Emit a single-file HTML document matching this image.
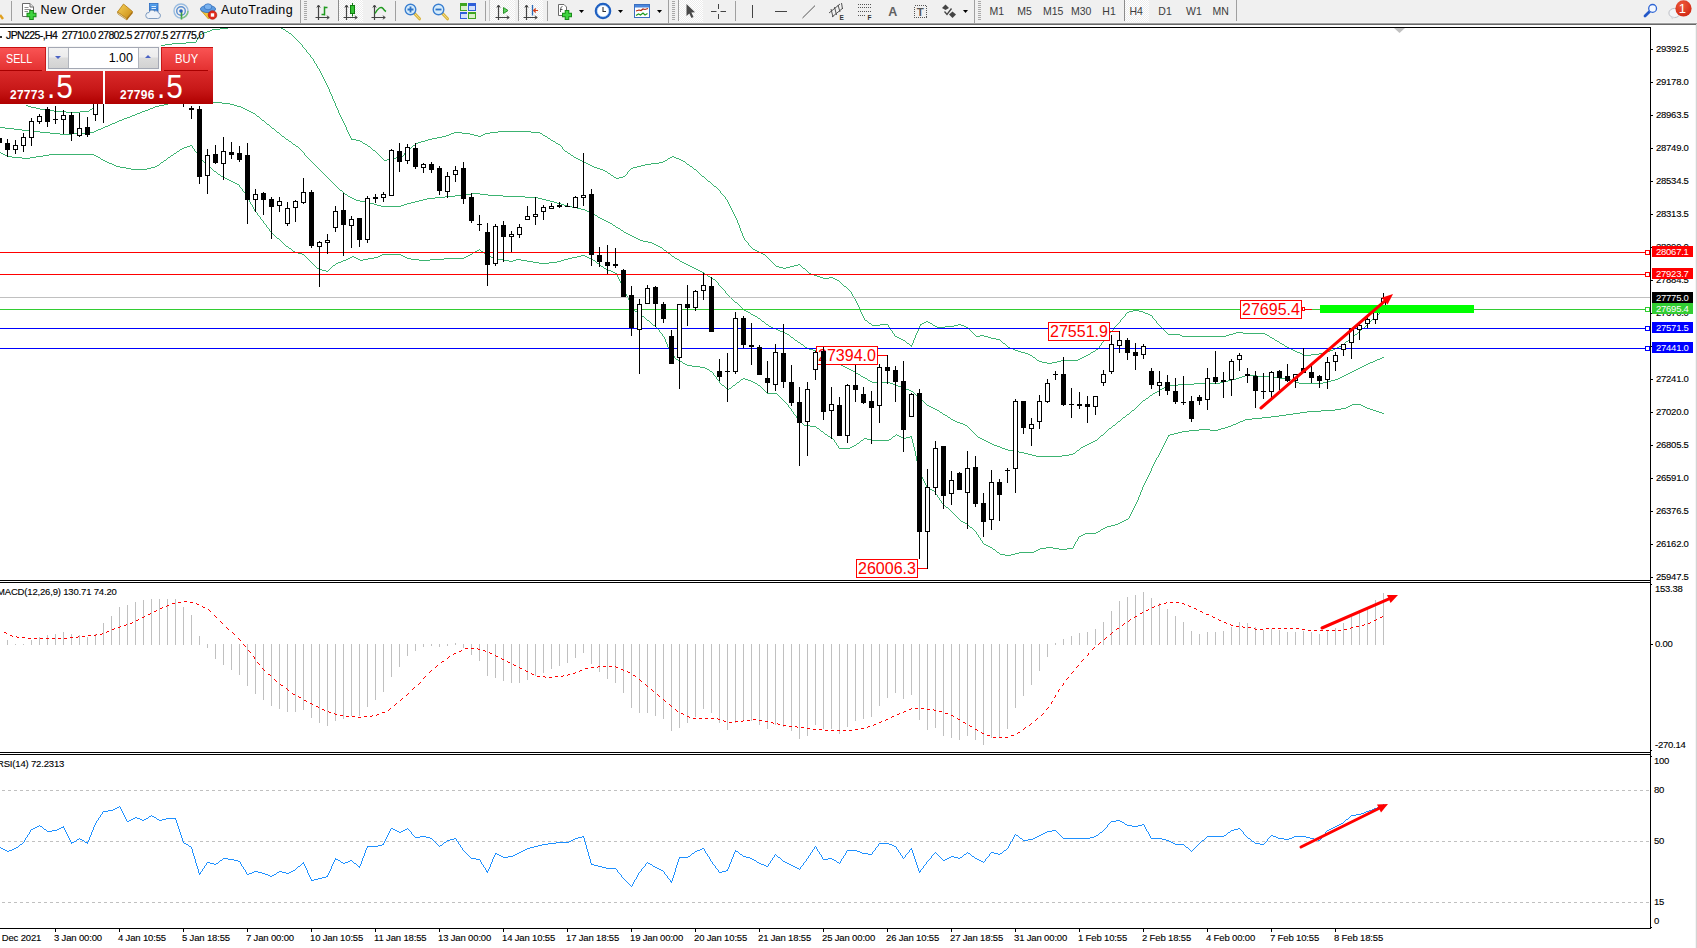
<!DOCTYPE html>
<html><head><meta charset="utf-8"><title>JPN225 H4</title>
<style>
html,body{margin:0;padding:0}
body{width:1697px;height:948px;overflow:hidden;background:#fff;position:relative;font-family:"Liberation Sans",sans-serif;}
#tb{position:absolute;left:0;top:0;width:1697px;height:23px;background:#f0f0f0;box-sizing:border-box;border-bottom:1px solid #f5f5f5}
#tbl1{position:absolute;left:0;top:23px;width:1697px;height:1px;background:#a0a0a0}
#tbl2{position:absolute;left:0;top:24px;width:1697px;height:1px;background:#696969}
svg#ch{position:absolute;left:0;top:0}
.ax,.tm,.lbl{-webkit-text-stroke:0.12px #000}
.ax{position:absolute;font-size:9.5px;line-height:12px;height:12px;color:#000;letter-spacing:-0.25px;white-space:nowrap}
.tag{position:absolute;left:1652px;width:41px;height:11px;line-height:11px;font-size:9.5px;color:#fff;letter-spacing:-0.25px;text-indent:4px;white-space:nowrap;margin-top:0}
.tm{position:absolute;top:932px;font-size:9.5px;line-height:12px;color:#000;letter-spacing:-0.15px;white-space:nowrap}
.lbl{position:absolute;font-size:9.5px;line-height:12px;color:#000;letter-spacing:-0.17px;white-space:nowrap}
/*TOOLBARCSS*/
#sym{-webkit-text-stroke:0.2px #000;position:absolute;left:6px;top:29px;font-size:10.5px;line-height:13px;color:#000;white-space:nowrap;letter-spacing:-0.6px}
#symdot{position:absolute;left:0;top:36px;width:2px;height:2px;background:#333}
#oc{position:absolute;left:0;top:46px;width:213px;height:58px}
#volbg{position:absolute;left:46px;top:0;width:115px;height:26px;background:#f6f6f6}
#sellb,#buyb{position:absolute;top:1px;height:24px;background:linear-gradient(#f95353,#e33030);color:#fff;font-size:12.5px;line-height:24px;box-sizing:border-box;border-top:1px solid #c81010}
#sellb{left:0;width:46px;border-right:1px solid #c81818}
#buyb{left:161px;width:52px;border-left:1px solid #c81818}
#sellb span{position:absolute;left:6px;top:-1px;transform:scaleX(0.86);transform-origin:0 0}
#buyb span{position:absolute;left:13px;top:-1px;transform:scaleX(0.9);transform-origin:0 0}
#sellb i{position:absolute;left:0;bottom:0;width:42px;height:1px;background:#a80000;box-shadow:0 1px 0 #ea5555}
#buyb i{position:absolute;right:5px;bottom:0;width:44px;height:1px;background:#a80000;box-shadow:0 1px 0 #ea5555}
#vol{position:absolute;left:48px;top:1px;width:111px;height:22px;box-sizing:border-box;border:1px solid #a3a7b3;background:#fff}
#vol .vb{position:absolute;top:0;width:19px;height:20px;background:linear-gradient(#f2f2f2 0%,#ececec 45%,#dcdcdc 50%,#d2d2d2 100%);border-right:1px solid #b0b4bc;border-left:1px solid #b0b4bc}
#vol .vb b{position:absolute;left:6px;top:8px;width:0;height:0;border-left:3px solid transparent;border-right:3px solid transparent}
#vol .dn{border-top:3px solid #4a62c4}
#vol .up{border-bottom:3px solid #4a62c4;top:7px!important}
#volt{position:absolute;right:25px;top:0;font-size:12.5px;line-height:20px;color:#000}
#sellp,#buyp{position:absolute;top:25px;height:33px;background:linear-gradient(#d92a2a,#c81818 55%,#b00000);color:#fff}
#sellp{left:0;width:103px}
#buyp{left:105px;width:108px}
#oc .sm{position:absolute;top:17px;font-size:12px;line-height:14px;font-weight:bold;letter-spacing:0.25px}
#oc .bg{position:absolute;top:-3px;font-size:33px;line-height:38px;letter-spacing:1px;transform:scaleX(0.9);transform-origin:0 0}

#gap{position:absolute;left:103px;top:25px;width:2px;height:33px;background:#fff}

</style></head><body>
<div id="tb"><svg width="1697" height="23" viewBox="0 0 1697 23" style="position:absolute;left:0;top:0">
<defs>
<pattern id="chk" width="2" height="2" patternUnits="userSpaceOnUse"><rect width="2" height="2" fill="#fff"/><rect width="1" height="1" fill="#ececec"/><rect x="1" y="1" width="1" height="1" fill="#ececec"/></pattern>
<linearGradient id="gy" x1="0" y1="0" x2="1" y2="1"><stop offset="0" stop-color="#f7d25a"/><stop offset="1" stop-color="#c88a12"/></linearGradient>
<linearGradient id="gb" x1="0" y1="0" x2="0" y2="1"><stop offset="0" stop-color="#5aa6ee"/><stop offset="1" stop-color="#1c5fc4"/></linearGradient>
<radialGradient id="gr" cx="0.4" cy="0.3" r="0.8"><stop offset="0" stop-color="#ee5a3a"/><stop offset="1" stop-color="#cf2411"/></radialGradient>
<g id="dd"><polygon points="0,0 5,0 2.5,3" fill="#000"/></g>
<g id="grip" shape-rendering="crispEdges"><rect x="0" y="1" width="3" height="1" fill="#a8a8a8"/><rect x="0" y="3" width="3" height="1" fill="#a8a8a8"/><rect x="0" y="5" width="3" height="1" fill="#a8a8a8"/><rect x="0" y="7" width="3" height="1" fill="#a8a8a8"/><rect x="0" y="9" width="3" height="1" fill="#a8a8a8"/><rect x="0" y="11" width="3" height="1" fill="#a8a8a8"/><rect x="0" y="13" width="3" height="1" fill="#a8a8a8"/><rect x="0" y="15" width="3" height="1" fill="#a8a8a8"/><rect x="0" y="17" width="3" height="1" fill="#a8a8a8"/><rect x="0" y="19" width="3" height="1" fill="#a8a8a8"/></g>
<g id="axes" fill="none" stroke="#444" stroke-width="1.2"><path d="M3.5,2.5V17M0.5,14.5H14"/><path d="M1.8,4.5L3.5,2L5.2,4.5M11.8,12.8L14.3,14.5L11.8,16.2" stroke-width="1"/></g>
<g id="mag"><path d="M10.5,10.5L15.5,15.8" stroke="#d8b23a" stroke-width="3" stroke-linecap="round"/><path d="M10.5,10.5L15.5,15.8" stroke="#f4e08a" stroke-width="1" stroke-linecap="round"/><circle cx="6.5" cy="6.5" r="5.3" fill="#d6ecfb" stroke="#3b7fd0" stroke-width="1.4"/></g>
</defs>
<!-- pressed backgrounds -->
<g shape-rendering="crispEdges">
<rect x="339" y="0" width="24" height="22" fill="url(#chk)"/>
<rect x="490" y="0" width="25" height="22" fill="url(#chk)"/>
<rect x="519" y="0" width="24" height="22" fill="url(#chk)"/>
<rect x="679" y="0" width="24" height="22" fill="url(#chk)"/>
<rect x="1125" y="0" width="24" height="22" fill="url(#chk)"/>
<!-- separators -->
<rect x="11" y="1" width="1" height="20" fill="#a0a0a0"/>
<rect x="300" y="0" width="1" height="23" fill="#a0a0a0"/>
<rect x="338" y="0" width="1" height="21" fill="#8c8c8c"/>
<rect x="395" y="1" width="1" height="20" fill="#a0a0a0"/>
<rect x="485" y="1" width="1" height="20" fill="#a0a0a0"/>
<rect x="489" y="0" width="1" height="21" fill="#c8c8c8"/>
<rect x="518" y="0" width="1" height="21" fill="#a0a0a0"/>
<rect x="547" y="1" width="1" height="20" fill="#a0a0a0"/>
<rect x="668" y="0" width="1" height="23" fill="#a0a0a0"/>
<rect x="678" y="0" width="1" height="21" fill="#a0a0a0"/>
<rect x="735" y="1" width="1" height="20" fill="#a0a0a0"/>
<rect x="974" y="0" width="1" height="23" fill="#a0a0a0"/>
<rect x="1124" y="0" width="1" height="21" fill="#8c8c8c"/>
<rect x="1236" y="0" width="1" height="21" fill="#a0a0a0"/>
</g>
<use href="#grip" x="304" y="0"/><use href="#grip" x="672" y="0"/><use href="#grip" x="978" y="0"/>
<!-- left cut icon -->
<path d="M0,15L3,19" stroke="#e0a020" stroke-width="2.5"/>
<!-- New Order icon -->
<g transform="translate(21,3)"><path d="M1.5,0.5H9L12.5,4V13.5H1.5Z" fill="#fff" stroke="#6a6a6a"/><path d="M9,0.5V4H12.5" fill="#e4e4e4" stroke="#6a6a6a"/><path d="M3.5,4.5H7.5M3.5,6.5H10M3.5,8.5H7" stroke="#909090"/><path d="M10.5,7V17M5.5,12H15.5" stroke="#1a8a1a" stroke-width="4.6"/><path d="M10.5,8V16M6.5,12H14.5" stroke="#3fd43f" stroke-width="2.6"/></g>
<text x="40.5" y="14" font-size="12.5" fill="#000" font-family="Liberation Sans, sans-serif" letter-spacing="0.55">New Order</text>
<!-- book -->
<g transform="translate(117,3)"><path d="M6.5,1L15.5,8.5L9.5,15.5L0.5,9Z" fill="url(#gy)" stroke="#b07a10" stroke-width="0.8"/><path d="M0.5,9L9.5,15.5L10,17L1,11Z" fill="#f4ecd0" stroke="#b07a10" stroke-width="0.7"/><path d="M9.5,15.5L15.5,8.5L15.8,10L10,17Z" fill="#a86c08"/></g>
<!-- cloud server -->
<g transform="translate(145,3)"><rect x="4.5" y="0.5" width="8.5" height="11" fill="url(#gb)" stroke="#2a6ac0" stroke-width="0.8"/><path d="M6.5,3.5H11M6.5,5.5H11" stroke="#d8ecff" stroke-width="1"/><path d="M3.5,15.5a3,3 0 0 1 0.5,-6a3.2,3.2 0 0 1 5.5,-1.3a2.6,2.6 0 0 1 3.8,1.6a2.9,2.9 0 0 1 -0.6,5.7Z" fill="#eef2f8" stroke="#7f9cc0" stroke-width="1"/></g>
<!-- signal -->
<g transform="translate(173,3)" fill="none"><circle cx="8" cy="8" r="7" stroke="#9abce0" stroke-width="1.4"/><circle cx="8" cy="8" r="4.3" stroke="#5b8fd0" stroke-width="1.4"/><path d="M8.5,8.5V16.5" stroke="#3aa03a" stroke-width="1.6"/><path d="M15,8A7,7 0 0 1 8.5,15" stroke="#7fc47f" stroke-width="1.4"/><circle cx="8" cy="8" r="1.8" fill="#2b62b8"/></g>
<!-- autotrading -->
<g transform="translate(200,3)"><path d="M1,7.5L8.5,16L15,9.5Z" fill="#f2c43a" stroke="#c89414" stroke-width="0.8"/><ellipse cx="8" cy="6" rx="7.6" ry="3.6" fill="#5c9be0" stroke="#2f6cba" stroke-width="0.8"/><ellipse cx="8" cy="3.8" rx="3.8" ry="3" fill="#7ab2ee" stroke="#2f6cba" stroke-width="0.7"/><circle cx="12.5" cy="12" r="4.3" fill="#e02a1a" stroke="#a81408" stroke-width="0.6"/><rect x="10.8" y="10.3" width="3.4" height="3.4" fill="#fff"/></g>
<text x="221" y="14" font-size="12.5" fill="#000" font-family="Liberation Sans, sans-serif" letter-spacing="0.4">AutoTrading</text>
<!-- chart type icons -->
<use href="#axes" x="315" y="3"/><path d="M324.5,6.5V15.5M324.5,7.5H327.5M321.5,14.5H324.5" stroke="#1f9a1f" stroke-width="1.5" fill="none"/>
<use href="#axes" x="343" y="3"/><path d="M352.5,3V16.5" stroke="#117a11" stroke-width="1"/><rect x="350.5" y="5.5" width="4" height="8" fill="#35c435" stroke="#117a11"/>
<use href="#axes" x="371" y="3"/><path d="M375,13.5C378,8 381,6 383,8.5C384,10 385,11 386,11.5" stroke="#1f9a1f" stroke-width="1.4" fill="none"/>
<!-- zoom in / out -->
<use href="#mag" x="404" y="3"/><path d="M407.5,9.5H413.5M410.5,6.5V12.5" stroke="#2f74c8" stroke-width="1.8"/>
<use href="#mag" x="432" y="3"/><path d="M435.5,9.5H441.5" stroke="#2f74c8" stroke-width="1.8"/>
<!-- tile -->
<g transform="translate(460,3)" shape-rendering="crispEdges"><rect x="0" y="0" width="8" height="8" fill="#3fa51f"/><rect x="8" y="0" width="8" height="8" fill="#2f5fd8"/><rect x="0" y="8" width="8" height="8" fill="#2f5fd8"/><rect x="8" y="8" width="8" height="8" fill="#3fa51f"/><rect x="1" y="3" width="6" height="4" fill="#d8f0c8"/><rect x="9" y="3" width="6" height="4" fill="#d4e0fa"/><rect x="1" y="11" width="6" height="4" fill="#d4e0fa"/><rect x="9" y="11" width="6" height="4" fill="#d8f0c8"/><rect x="7" y="0" width="1" height="16" fill="#f0f0f0"/><rect x="0" y="8" width="16" height="1" fill="#f0f0f0"/></g>
<!-- shift / autoscroll -->
<use href="#axes" x="495" y="3"/><polygon points="503.5,7.5 503.5,13.5 508,10.5" fill="#5fd45f" stroke="#1f8a1f" stroke-width="0.9"/>
<use href="#axes" x="523" y="3"/><path d="M532.5,5V15.5" stroke="#2a6ab8" stroke-width="1.3"/><path d="M538,10.5H534M535.8,8.5L533.6,10.5L535.8,12.5" stroke="#d4401a" stroke-width="1.1" fill="none"/>
<!-- indicators add -->
<g transform="translate(557,3)"><path d="M1.5,1.5H7L9.5,4V12.5H1.5Z" fill="#fff" stroke="#6a6a6a"/><path d="M3.5,9C3.5,4 4.5,3.5 5.5,3.5M3,6.5H5.5" stroke="#444" fill="none" stroke-width="0.9"/><path d="M10,7V17M5,12H15" stroke="#1a8a1a" stroke-width="4.6"/><path d="M10,8V16M6,12H14" stroke="#3fd43f" stroke-width="2.6"/></g>
<use href="#dd" x="579" y="10"/>
<!-- clock -->
<g transform="translate(595,3)"><circle cx="8" cy="8" r="7.2" fill="#fff" stroke="#1f5fc0" stroke-width="2.2"/><circle cx="8" cy="8" r="5.8" fill="none" stroke="#8ab8ee" stroke-width="0.6"/><path d="M8,4V8.5H11" stroke="#333" stroke-width="1.1" fill="none"/></g>
<use href="#dd" x="618" y="10"/>
<!-- template -->
<g transform="translate(634,4)"><rect x="0.5" y="0.5" width="15" height="13" fill="#fff" stroke="#3a6ec0"/><rect x="1" y="1" width="14" height="2.5" fill="#4a86dc"/><path d="M2,7L5,6L7,6.5L9,5L11,5.5L14,4.5" stroke="#b02a10" stroke-width="1.2" fill="none"/><path d="M2,11.5L4.5,10L6.5,11L9,9L11,11L13.5,9.5" stroke="#1f9a1f" stroke-width="1.2" fill="none"/></g>
<use href="#dd" x="657" y="10"/>
<!-- cursor -->
<path d="M686.5,4L686.5,16L689.3,13.4L691.5,18L693.5,17L691.4,12.6L695,12.2Z" fill="#4a4a4a"/>
<!-- crosshair -->
<path d="M718.5,4V9M718.5,14V19M711,11.5H716.5M720.5,11.5H726" stroke="#444" stroke-width="1"/>
<!-- line tools -->
<rect x="752" y="5" width="1" height="13" fill="#444" shape-rendering="crispEdges"/>
<rect x="775" y="11" width="12" height="1" fill="#444" shape-rendering="crispEdges"/>
<path d="M802.5,18L815,5.6" stroke="#555" stroke-width="1"/>
<g stroke="#444" stroke-width="0.9" fill="none"><path d="M829,13L840,4M832,17L843,8M831,9L833,17M834.5,7L836.5,15M838,5L840,12M841.5,3L842.5,9"/></g>
<text x="839.5" y="20" font-size="6.5" font-weight="bold" fill="#333" font-family="Liberation Sans, sans-serif">E</text>
<g stroke="#555" stroke-width="1" stroke-dasharray="1 1" shape-rendering="crispEdges"><path d="M858,4.5H872M858,7.5H872M858,11.5H872M858,15.5H866"/></g>
<text x="867.5" y="20" font-size="6.5" font-weight="bold" fill="#333" font-family="Liberation Sans, sans-serif">F</text>
<text x="888.3" y="16" font-size="12.5" font-weight="bold" fill="#606060" font-family="Liberation Sans, sans-serif">A</text>
<rect x="914.5" y="5.5" width="12" height="12" fill="none" stroke="#555" stroke-dasharray="1 1" shape-rendering="crispEdges"/>
<text x="916.7" y="16" font-size="11.5" font-weight="bold" fill="#555" font-family="Liberation Sans, sans-serif">T</text>
<g fill="#444"><polygon points="942,8 945.5,4.5 949,8 945.5,10"/><polygon points="949,14.5 952.5,11.5 956,14.5 952.5,18"/><path d="M944.5,11.5L947,14.5L951.5,8.5" fill="none" stroke="#444" stroke-width="1.3"/></g>
<use href="#dd" x="963" y="10"/>
<!-- timeframes -->
<g font-size="10.5" fill="#3c3c3c" font-family="Liberation Sans, sans-serif">
<text x="989.5" y="15">M1</text><text x="1017.3" y="15">M5</text><text x="1043" y="15">M15</text><text x="1071" y="15">M30</text><text x="1102.3" y="15">H1</text><text x="1129.5" y="15">H4</text><text x="1158.3" y="15">D1</text><text x="1186" y="15">W1</text><text x="1212.5" y="15">MN</text>
</g>
<!-- search -->
<path d="M1649.6,11.4L1645,16" stroke="#2458c8" stroke-width="2.8" stroke-linecap="round"/><circle cx="1652.6" cy="8.4" r="3.9" fill="#f4f8ff" stroke="#2f66d4" stroke-width="1.3"/>
<!-- chat -->
<ellipse cx="1674.5" cy="13" rx="5.6" ry="4.6" fill="#f4f5f8" stroke="#b8bac2" stroke-width="0.9"/><path d="M1671,16.5L1672,19.5L1675,17Z" fill="#d8dae0"/>
<circle cx="1683.5" cy="8.4" r="8.1" fill="url(#gr)"/>
<text x="1678.8" y="13.2" font-size="13" fill="#fff" font-family="Liberation Sans, sans-serif">1</text>
</svg>
</div><div id="tbl1"></div><div id="tbl2"></div>
<svg id="ch" width="1697" height="948" viewBox="0 0 1697 948">
<defs><clipPath id="cm"><rect x="0" y="28" width="1650" height="552"/></clipPath><clipPath id="c2"><rect x="0" y="583" width="1650" height="169"/></clipPath><clipPath id="c3"><rect x="0" y="755" width="1650" height="173"/></clipPath></defs>
<g clip-path="url(#cm)">
<path d="M239 24.5h33M235 25.5h4M272 25.5h3M232 26.5h3M275 26.5h3M228 27.5h4M278 27.5h3M220 28.5h8M281 28.5h2M212 29.5h8M283 29.5h2M210 30.5h2M285 30.5h1M207 31.5h3M286 31.5h2M204 32.5h3M288 32.5h1M202 33.5h2M289 33.5h2M200 34.5h2M291 34.5h1M199 35.5h1M292 35.5h1M199 36.5h1M293 36.5h1M198 37.5h1M294 37.5h1M197 38.5h1M295 38.5h1M197 39.5h1M296 39.5h1M196 40.5h1M297 40.5h1M196 41.5h1M298 41.5h1M186 42.5h10M299 42.5h1M172 43.5h14M300 43.5h1M165 44.5h7M301 44.5h1M161 45.5h4M302 45.5h1M159 46.5h2M302 46.5h1M158 47.5h1M303 47.5h1M157 48.5h1M304 48.5h1M155 49.5h2M305 49.5h1M154 50.5h1M306 50.5h1M152 51.5h2M306 51.5h1M151 52.5h1M307 52.5h1M150 53.5h1M308 53.5h1M148 54.5h2M309 54.5h1M147 55.5h1M310 55.5h1M145 56.5h2M310 56.5h1M144 57.5h1M311 57.5h1M143 58.5h1M312 58.5h1M141 59.5h2M313 59.5h1M140 60.5h1M313 60.5h1M139 61.5h1M314 61.5h1M138 62.5h1M314 62.5h1M137 63.5h1M315 63.5h1M136 64.5h1M316 64.5h1M135 65.5h1M316 65.5h1M134 66.5h1M317 66.5h1M133 67.5h1M317 67.5h1M132 68.5h1M318 68.5h1M131 69.5h1M319 69.5h1M130 70.5h1M319 70.5h1M129 71.5h1M320 71.5h1M128 72.5h1M320 72.5h1M127 73.5h1M321 73.5h1M126 74.5h1M321 74.5h1M125 75.5h1M322 75.5h1M124 76.5h1M322 76.5h1M123 77.5h1M323 77.5h1M122 78.5h1M323 78.5h1M121 79.5h1M324 79.5h1M120 80.5h1M324 80.5h1M119 81.5h1M325 81.5h1M118 82.5h1M325 82.5h1M117 83.5h1M326 83.5h1M116 84.5h1M326 84.5h1M115 85.5h1M327 85.5h1M114 86.5h1M327 86.5h1M113 87.5h1M328 87.5h1M112 88.5h1M328 88.5h1M111 89.5h1M329 89.5h1M110 90.5h1M329 90.5h1M109 91.5h1M329 91.5h1M108 92.5h1M330 92.5h1M107 93.5h1M330 93.5h1M106 94.5h1M331 94.5h1M105 95.5h1M331 95.5h1M104 96.5h1M332 96.5h1M103 97.5h1M332 97.5h1M102 98.5h1M332 98.5h1M101 99.5h1M333 99.5h1M100 100.5h1M333 100.5h1M99 101.5h1M334 101.5h1M98 102.5h1M334 102.5h1M97 103.5h1M335 103.5h1M96 104.5h1M335 104.5h1M26 105.5h2M95 105.5h1M335 105.5h1M28 106.5h3M94 106.5h1M336 106.5h1M31 107.5h5M93 107.5h1M336 107.5h1M36 108.5h4M92 108.5h1M337 108.5h1M40 109.5h5M90 109.5h2M337 109.5h1M45 110.5h9M89 110.5h1M338 110.5h1M54 111.5h12M80 111.5h9M338 111.5h1M66 112.5h14M338 112.5h1M339 113.5h1M339 114.5h1M340 115.5h1M340 116.5h1M341 117.5h1M341 118.5h1M342 119.5h1M342 120.5h1M343 121.5h1M343 122.5h1M344 123.5h1M344 124.5h1M345 125.5h1M345 126.5h1M346 127.5h1M346 128.5h1M346 129.5h1M347 130.5h1M347 131.5h1M498 131.5h33M348 132.5h1M454 132.5h8M490 132.5h8M531 132.5h9M348 133.5h1M451 133.5h3M462 133.5h8M485 133.5h5M540 133.5h2M349 134.5h1M449 134.5h2M470 134.5h4M483 134.5h2M542 134.5h1M349 135.5h1M446 135.5h3M474 135.5h4M481 135.5h2M543 135.5h2M350 136.5h1M442 136.5h4M478 136.5h3M545 136.5h2M350 137.5h1M437 137.5h5M547 137.5h1M351 138.5h1M432 138.5h5M548 138.5h2M351 139.5h5M428 139.5h4M550 139.5h1M356 140.5h4M425 140.5h3M551 140.5h2M360 141.5h2M421 141.5h4M553 141.5h2M362 142.5h1M418 142.5h3M555 142.5h1M363 143.5h2M416 143.5h2M556 143.5h2M365 144.5h2M415 144.5h1M558 144.5h2M367 145.5h1M413 145.5h2M560 145.5h1M368 146.5h2M412 146.5h1M561 146.5h1M370 147.5h1M411 147.5h1M562 147.5h1M371 148.5h1M409 148.5h2M562 148.5h1M372 149.5h1M408 149.5h1M563 149.5h1M373 150.5h2M407 150.5h1M564 150.5h1M375 151.5h1M406 151.5h1M565 151.5h2M376 152.5h1M405 152.5h1M567 152.5h1M377 153.5h1M404 153.5h1M568 153.5h2M378 154.5h1M404 154.5h1M570 154.5h1M379 155.5h1M403 155.5h1M571 155.5h2M380 156.5h1M400 156.5h3M573 156.5h1M672 156.5h2M381 157.5h1M396 157.5h4M574 157.5h2M670 157.5h2M674 157.5h2M382 158.5h1M392 158.5h4M576 158.5h2M668 158.5h2M676 158.5h3M383 159.5h1M387 159.5h5M578 159.5h2M667 159.5h1M679 159.5h2M384 160.5h3M580 160.5h2M665 160.5h2M681 160.5h2M582 161.5h2M663 161.5h2M683 161.5h2M584 162.5h2M659 162.5h4M685 162.5h1M586 163.5h2M651 163.5h8M686 163.5h1M588 164.5h2M645 164.5h6M687 164.5h2M590 165.5h2M641 165.5h4M689 165.5h1M592 166.5h2M637 166.5h4M690 166.5h2M594 167.5h3M633 167.5h4M692 167.5h1M597 168.5h3M631 168.5h2M693 168.5h1M600 169.5h3M630 169.5h1M694 169.5h2M603 170.5h2M629 170.5h1M696 170.5h1M605 171.5h2M628 171.5h1M697 171.5h1M607 172.5h1M627 172.5h1M698 172.5h1M608 173.5h2M627 173.5h1M699 173.5h1M610 174.5h1M626 174.5h1M700 174.5h1M611 175.5h2M625 175.5h1M701 175.5h1M613 176.5h1M623 176.5h2M702 176.5h2M614 177.5h2M619 177.5h4M704 177.5h1M616 178.5h3M705 178.5h1M706 179.5h1M707 180.5h1M708 181.5h2M710 182.5h1M711 183.5h1M712 184.5h1M713 185.5h1M714 186.5h2M716 187.5h1M717 188.5h1M718 189.5h1M719 190.5h1M720 191.5h1M720 192.5h1M721 193.5h1M722 194.5h1M723 195.5h1M724 196.5h1M725 197.5h1M725 198.5h1M726 199.5h1M727 200.5h1M727 201.5h1M728 202.5h1M728 203.5h1M729 204.5h1M729 205.5h1M730 206.5h1M730 207.5h1M731 208.5h1M731 209.5h1M732 210.5h1M732 211.5h1M733 212.5h1M733 213.5h1M734 214.5h1M734 215.5h1M735 216.5h1M735 217.5h1M736 218.5h1M736 219.5h1M737 220.5h1M737 221.5h1M737 222.5h1M738 223.5h1M738 224.5h1M739 225.5h1M739 226.5h1M739 227.5h1M740 228.5h1M740 229.5h1M740 230.5h1M741 231.5h1M741 232.5h1M742 233.5h1M742 234.5h1M742 235.5h1M743 236.5h1M743 237.5h1M744 238.5h1M744 239.5h1M745 240.5h1M746 241.5h1M747 242.5h1M748 243.5h1M748 244.5h1M749 245.5h1M750 246.5h1M751 247.5h1M752 248.5h1M753 249.5h2M755 250.5h2M757 251.5h2M759 252.5h2M761 253.5h2M763 254.5h2M765 255.5h1M766 256.5h1M767 257.5h1M768 258.5h1M769 259.5h1M770 260.5h1M771 261.5h1M772 262.5h1M773 263.5h1M774 264.5h1M798 264.5h2M775 265.5h1M794 265.5h4M800 265.5h1M776 266.5h3M790 266.5h4M801 266.5h1M779 267.5h4M786 267.5h4M802 267.5h1M783 268.5h3M803 268.5h2M805 269.5h1M806 270.5h1M807 271.5h1M808 272.5h1M809 273.5h2M811 274.5h3M814 275.5h3M817 276.5h3M820 277.5h3M829 277.5h4M823 278.5h6M833 278.5h2M835 279.5h2M837 280.5h2M839 281.5h1M840 282.5h1M841 283.5h1M842 284.5h1M843 285.5h1M844 286.5h2M846 287.5h1M847 288.5h1M848 289.5h1M849 290.5h1M850 291.5h1M851 292.5h1M851 293.5h1M852 294.5h1M852 295.5h1M853 296.5h1M854 297.5h1M854 298.5h1M855 299.5h1M855 300.5h1M856 301.5h1M856 302.5h1M857 303.5h1M857 304.5h1M858 305.5h1M858 306.5h1M859 307.5h1M859 308.5h1M860 309.5h1M860 310.5h1M1133 310.5h6M1383 310.5h1M860 311.5h1M1129 311.5h4M1139 311.5h4M1382 311.5h1M861 312.5h1M1127 312.5h2M1143 312.5h2M1380 312.5h2M861 313.5h1M1126 313.5h1M1145 313.5h3M1379 313.5h1M862 314.5h1M1125 314.5h1M1148 314.5h2M1378 314.5h1M862 315.5h1M1125 315.5h1M1150 315.5h2M1377 315.5h1M863 316.5h1M1124 316.5h1M1152 316.5h1M1375 316.5h2M863 317.5h1M1123 317.5h1M1152 317.5h1M1374 317.5h1M864 318.5h1M1122 318.5h1M1153 318.5h1M1373 318.5h1M864 319.5h1M1121 319.5h1M1154 319.5h1M1372 319.5h1M865 320.5h2M1120 320.5h1M1155 320.5h1M1371 320.5h1M867 321.5h1M926 321.5h2M1120 321.5h1M1156 321.5h1M1370 321.5h1M868 322.5h1M924 322.5h2M928 322.5h2M1119 322.5h1M1156 322.5h1M1369 322.5h1M869 323.5h2M922 323.5h2M930 323.5h2M1118 323.5h1M1157 323.5h1M1368 323.5h1M871 324.5h1M880 324.5h8M920 324.5h2M932 324.5h1M958 324.5h3M1117 324.5h1M1158 324.5h1M1367 324.5h1M872 325.5h8M888 325.5h1M920 325.5h1M933 325.5h2M954 325.5h4M961 325.5h3M1116 325.5h1M1159 325.5h1M1366 325.5h1M888 326.5h1M919 326.5h1M935 326.5h2M945 326.5h9M964 326.5h2M1115 326.5h1M1160 326.5h1M1365 326.5h1M889 327.5h1M919 327.5h1M937 327.5h8M966 327.5h2M1114 327.5h1M1161 327.5h1M1364 327.5h1M890 328.5h1M918 328.5h1M968 328.5h1M1114 328.5h1M1162 328.5h1M1362 328.5h2M890 329.5h1M918 329.5h1M969 329.5h1M1113 329.5h1M1163 329.5h1M1361 329.5h1M891 330.5h1M918 330.5h1M970 330.5h1M1112 330.5h1M1164 330.5h1M1360 330.5h1M892 331.5h1M917 331.5h1M971 331.5h1M1111 331.5h1M1165 331.5h1M1359 331.5h1M892 332.5h1M917 332.5h1M972 332.5h1M1110 332.5h1M1166 332.5h1M1236 332.5h7M1358 332.5h1M893 333.5h1M916 333.5h1M973 333.5h1M1109 333.5h1M1167 333.5h1M1233 333.5h3M1243 333.5h22M1357 333.5h1M894 334.5h1M916 334.5h1M974 334.5h1M1108 334.5h1M1168 334.5h12M1229 334.5h4M1265 334.5h2M1355 334.5h2M894 335.5h1M915 335.5h1M975 335.5h1M980 335.5h4M1107 335.5h1M1180 335.5h2M1226 335.5h3M1267 335.5h2M1354 335.5h1M895 336.5h2M915 336.5h1M976 336.5h4M984 336.5h4M1107 336.5h1M1182 336.5h44M1269 336.5h1M1353 336.5h1M897 337.5h2M915 337.5h1M988 337.5h3M1106 337.5h1M1270 337.5h2M1352 337.5h1M899 338.5h2M914 338.5h1M991 338.5h5M1105 338.5h1M1272 338.5h2M1350 338.5h2M901 339.5h2M914 339.5h1M996 339.5h4M1104 339.5h1M1274 339.5h1M1349 339.5h1M903 340.5h2M913 340.5h1M1000 340.5h1M1104 340.5h1M1275 340.5h2M1348 340.5h1M905 341.5h1M913 341.5h1M1001 341.5h1M1103 341.5h1M1277 341.5h2M1346 341.5h2M906 342.5h1M913 342.5h1M1002 342.5h1M1102 342.5h1M1279 342.5h1M1345 342.5h1M907 343.5h2M912 343.5h1M1003 343.5h2M1101 343.5h1M1280 343.5h2M1344 343.5h1M909 344.5h1M912 344.5h1M1005 344.5h1M1101 344.5h1M1282 344.5h2M1342 344.5h2M910 345.5h2M1006 345.5h1M1100 345.5h1M1284 345.5h1M1341 345.5h1M911 346.5h1M1007 346.5h1M1099 346.5h1M1285 346.5h2M1339 346.5h2M1008 347.5h2M1099 347.5h1M1287 347.5h2M1337 347.5h2M1010 348.5h3M1098 348.5h1M1289 348.5h2M1335 348.5h2M1013 349.5h2M1096 349.5h2M1291 349.5h2M1333 349.5h2M1015 350.5h3M1095 350.5h1M1293 350.5h2M1330 350.5h3M1018 351.5h3M1093 351.5h2M1295 351.5h2M1326 351.5h4M1021 352.5h4M1091 352.5h2M1297 352.5h3M1323 352.5h3M1025 353.5h3M1090 353.5h1M1300 353.5h2M1319 353.5h4M1028 354.5h2M1088 354.5h2M1302 354.5h2M1311 354.5h8M1030 355.5h2M1086 355.5h2M1304 355.5h7M1032 356.5h1M1084 356.5h2M1033 357.5h2M1082 357.5h2M1035 358.5h1M1080 358.5h2M1036 359.5h1M1078 359.5h2M1037 360.5h2M1061 360.5h17M1039 361.5h3M1057 361.5h4M1042 362.5h5M1052 362.5h5M1047 363.5h5" fill="none" stroke="#3cb371" stroke-width="1" shape-rendering="crispEdges"/>
<path d="M193 102.5h29M168 103.5h25M222 103.5h8M164 104.5h4M230 104.5h4M159 105.5h5M234 105.5h3M155 106.5h4M237 106.5h4M153 107.5h2M241 107.5h2M150 108.5h3M243 108.5h2M148 109.5h2M245 109.5h2M145 110.5h3M247 110.5h2M142 111.5h3M249 111.5h2M140 112.5h2M251 112.5h2M137 113.5h3M253 113.5h2M135 114.5h2M255 114.5h1M132 115.5h3M256 115.5h1M130 116.5h2M257 116.5h2M127 117.5h3M259 117.5h1M124 118.5h3M260 118.5h1M122 119.5h2M261 119.5h1M119 120.5h3M262 120.5h2M117 121.5h2M264 121.5h1M115 122.5h2M265 122.5h1M112 123.5h3M266 123.5h1M110 124.5h2M267 124.5h2M108 125.5h2M269 125.5h1M105 126.5h3M270 126.5h1M0 127.5h5M103 127.5h2M271 127.5h1M5 128.5h9M101 128.5h2M272 128.5h2M14 129.5h8M98 129.5h3M274 129.5h1M22 130.5h9M96 130.5h2M275 130.5h1M31 131.5h9M94 131.5h2M276 131.5h1M40 132.5h10M86 132.5h8M277 132.5h2M50 133.5h10M72 133.5h14M279 133.5h1M60 134.5h12M280 134.5h1M281 135.5h1M282 136.5h2M284 137.5h1M285 138.5h1M286 139.5h2M288 140.5h1M289 141.5h2M291 142.5h1M292 143.5h1M293 144.5h2M295 145.5h1M296 146.5h2M298 147.5h1M299 148.5h1M300 149.5h1M301 150.5h1M302 151.5h1M303 152.5h1M304 153.5h1M304 154.5h1M305 155.5h1M306 156.5h1M307 157.5h1M308 158.5h1M309 159.5h1M310 160.5h1M311 161.5h1M312 162.5h1M313 163.5h1M314 164.5h1M315 165.5h1M316 166.5h1M317 167.5h1M318 168.5h1M319 169.5h1M320 170.5h1M321 171.5h1M322 172.5h1M323 173.5h1M324 174.5h1M325 175.5h1M326 176.5h1M327 177.5h1M328 178.5h1M329 179.5h1M330 180.5h1M331 181.5h1M332 182.5h1M333 183.5h1M334 184.5h1M335 185.5h1M336 186.5h1M337 187.5h1M338 188.5h1M339 189.5h1M340 190.5h2M342 191.5h1M343 192.5h1M344 193.5h1M472 193.5h8M345 194.5h2M464 194.5h8M480 194.5h8M347 195.5h1M455 195.5h9M488 195.5h15M348 196.5h2M445 196.5h10M503 196.5h22M350 197.5h2M435 197.5h10M525 197.5h13M352 198.5h2M427 198.5h8M538 198.5h4M354 199.5h2M423 199.5h4M542 199.5h4M356 200.5h4M419 200.5h4M546 200.5h4M360 201.5h6M415 201.5h4M550 201.5h4M366 202.5h4M411 202.5h4M554 202.5h3M370 203.5h4M407 203.5h4M557 203.5h4M374 204.5h3M404 204.5h3M561 204.5h3M377 205.5h4M401 205.5h3M564 205.5h4M381 206.5h20M568 206.5h4M572 207.5h5M577 208.5h4M581 209.5h4M585 210.5h2M587 211.5h2M589 212.5h2M591 213.5h2M593 214.5h2M595 215.5h2M597 216.5h1M598 217.5h2M600 218.5h2M602 219.5h2M604 220.5h2M606 221.5h2M608 222.5h2M610 223.5h2M612 224.5h1M613 225.5h2M615 226.5h1M616 227.5h2M618 228.5h2M620 229.5h1M621 230.5h2M623 231.5h1M624 232.5h2M626 233.5h2M628 234.5h2M630 235.5h2M632 236.5h2M634 237.5h2M636 238.5h2M638 239.5h2M640 240.5h3M643 241.5h5M648 242.5h4M652 243.5h2M654 244.5h2M656 245.5h2M658 246.5h2M660 247.5h2M662 248.5h1M663 249.5h1M664 250.5h2M666 251.5h1M667 252.5h1M668 253.5h2M670 254.5h1M671 255.5h1M672 256.5h2M674 257.5h1M675 258.5h2M677 259.5h2M679 260.5h1M680 261.5h2M682 262.5h2M684 263.5h2M686 264.5h2M688 265.5h2M690 266.5h2M692 267.5h2M694 268.5h2M696 269.5h2M698 270.5h2M700 271.5h2M702 272.5h2M704 273.5h1M705 274.5h2M707 275.5h1M708 276.5h2M710 277.5h2M712 278.5h1M713 279.5h2M715 280.5h1M716 281.5h1M717 282.5h1M718 283.5h1M718 284.5h1M719 285.5h1M720 286.5h1M721 287.5h1M722 288.5h1M723 289.5h1M724 290.5h1M725 291.5h1M725 292.5h1M726 293.5h1M727 294.5h1M728 295.5h1M729 296.5h1M730 297.5h1M731 298.5h1M732 299.5h1M733 300.5h1M734 301.5h1M735 302.5h2M737 303.5h1M738 304.5h1M739 305.5h1M740 306.5h1M741 307.5h1M742 308.5h1M743 309.5h1M744 310.5h2M746 311.5h2M748 312.5h2M750 313.5h1M751 314.5h2M753 315.5h2M755 316.5h2M757 317.5h1M758 318.5h2M760 319.5h1M761 320.5h1M762 321.5h2M764 322.5h1M765 323.5h1M766 324.5h2M768 325.5h1M769 326.5h2M771 327.5h2M773 328.5h3M776 329.5h2M778 330.5h2M780 331.5h3M783 332.5h2M785 333.5h2M787 334.5h2M789 335.5h1M790 336.5h1M791 337.5h2M793 338.5h1M794 339.5h1M795 340.5h2M797 341.5h1M798 342.5h2M800 343.5h1M801 344.5h2M803 345.5h1M804 346.5h1M805 347.5h2M807 348.5h2M809 349.5h4M813 350.5h3M816 351.5h2M818 352.5h2M820 353.5h2M822 354.5h2M824 355.5h2M826 356.5h2M828 357.5h2M1382 357.5h2M830 358.5h1M1380 358.5h2M831 359.5h2M1377 359.5h3M833 360.5h1M1375 360.5h2M834 361.5h2M1373 361.5h2M836 362.5h2M1370 362.5h3M838 363.5h1M1368 363.5h2M839 364.5h2M1366 364.5h2M841 365.5h2M1364 365.5h2M843 366.5h2M1362 366.5h2M845 367.5h2M1360 367.5h2M847 368.5h2M1358 368.5h2M849 369.5h2M1356 369.5h2M851 370.5h2M1354 370.5h2M853 371.5h2M1352 371.5h2M855 372.5h1M1350 372.5h2M856 373.5h2M1348 373.5h2M858 374.5h2M1346 374.5h2M860 375.5h1M1245 375.5h12M1344 375.5h2M861 376.5h2M1242 376.5h3M1257 376.5h14M1342 376.5h2M863 377.5h2M1239 377.5h3M1271 377.5h8M1340 377.5h2M865 378.5h2M1236 378.5h3M1279 378.5h7M1338 378.5h2M867 379.5h1M1232 379.5h4M1286 379.5h5M1335 379.5h3M868 380.5h2M1228 380.5h4M1291 380.5h3M1331 380.5h4M870 381.5h2M1224 381.5h4M1294 381.5h2M1327 381.5h4M872 382.5h18M1220 382.5h4M1296 382.5h3M1323 382.5h4M890 383.5h3M1194 383.5h26M1299 383.5h24M893 384.5h2M1178 384.5h16M895 385.5h3M1170 385.5h8M898 386.5h3M1166 386.5h4M901 387.5h2M1164 387.5h2M903 388.5h3M1162 388.5h2M906 389.5h3M1160 389.5h2M909 390.5h2M1159 390.5h1M911 391.5h2M1157 391.5h2M913 392.5h1M1155 392.5h2M914 393.5h1M1153 393.5h2M915 394.5h1M1152 394.5h1M916 395.5h1M1150 395.5h2M917 396.5h1M1149 396.5h1M918 397.5h2M1148 397.5h1M920 398.5h1M1146 398.5h2M921 399.5h1M1145 399.5h1M922 400.5h1M1143 400.5h2M923 401.5h1M1142 401.5h1M924 402.5h1M1141 402.5h1M925 403.5h1M1140 403.5h1M926 404.5h1M1139 404.5h1M927 405.5h2M1138 405.5h1M929 406.5h2M1137 406.5h1M931 407.5h2M1136 407.5h1M933 408.5h2M1135 408.5h1M935 409.5h2M1134 409.5h1M937 410.5h2M1132 410.5h2M939 411.5h1M1131 411.5h1M940 412.5h2M1130 412.5h1M942 413.5h1M1129 413.5h1M943 414.5h2M1127 414.5h2M945 415.5h2M1126 415.5h1M947 416.5h1M1125 416.5h1M948 417.5h2M1123 417.5h2M950 418.5h1M1122 418.5h1M951 419.5h2M1121 419.5h1M953 420.5h2M1120 420.5h1M955 421.5h2M1118 421.5h2M957 422.5h3M1117 422.5h1M960 423.5h3M1116 423.5h1M963 424.5h2M1115 424.5h1M965 425.5h2M1113 425.5h2M967 426.5h1M1112 426.5h1M968 427.5h1M1111 427.5h1M969 428.5h1M1109 428.5h2M970 429.5h1M1108 429.5h1M971 430.5h1M1107 430.5h1M972 431.5h1M1106 431.5h1M973 432.5h1M1105 432.5h1M974 433.5h1M1104 433.5h1M975 434.5h1M1103 434.5h1M976 435.5h1M1101 435.5h2M977 436.5h1M1100 436.5h1M978 437.5h2M1099 437.5h1M980 438.5h2M1098 438.5h1M982 439.5h2M1097 439.5h1M984 440.5h2M1095 440.5h2M986 441.5h2M1093 441.5h2M988 442.5h2M1091 442.5h2M990 443.5h2M1089 443.5h2M992 444.5h2M1087 444.5h2M994 445.5h3M1085 445.5h2M997 446.5h3M1083 446.5h2M1000 447.5h2M1081 447.5h2M1002 448.5h3M1080 448.5h1M1005 449.5h3M1079 449.5h1M1008 450.5h5M1077 450.5h2M1013 451.5h6M1076 451.5h1M1019 452.5h5M1075 452.5h1M1024 453.5h4M1073 453.5h2M1028 454.5h4M1069 454.5h4M1032 455.5h4M1062 455.5h7M1036 456.5h26" fill="none" stroke="#3cb371" stroke-width="1" shape-rendering="crispEdges"/>
<path d="M190 145.5h2M187 146.5h3M192 146.5h1M184 147.5h3M192 147.5h1M182 148.5h2M193 148.5h1M180 149.5h2M194 149.5h1M179 150.5h1M194 150.5h1M177 151.5h2M195 151.5h1M0 152.5h1M176 152.5h1M196 152.5h1M1 153.5h2M174 153.5h2M197 153.5h1M3 154.5h2M49 154.5h45M173 154.5h1M197 154.5h1M5 155.5h2M43 155.5h6M94 155.5h2M171 155.5h2M198 155.5h1M7 156.5h5M36 156.5h7M96 156.5h2M170 156.5h1M199 156.5h1M12 157.5h10M30 157.5h6M98 157.5h2M168 157.5h2M200 157.5h1M22 158.5h8M100 158.5h1M167 158.5h1M201 158.5h1M101 159.5h2M166 159.5h1M201 159.5h1M103 160.5h2M164 160.5h2M202 160.5h1M105 161.5h2M163 161.5h1M203 161.5h1M107 162.5h2M161 162.5h2M204 162.5h1M109 163.5h3M160 163.5h1M205 163.5h1M112 164.5h2M159 164.5h1M206 164.5h1M114 165.5h2M157 165.5h2M207 165.5h2M116 166.5h4M155 166.5h2M209 166.5h1M120 167.5h6M151 167.5h4M210 167.5h1M126 168.5h5M147 168.5h4M211 168.5h1M131 169.5h16M212 169.5h1M213 170.5h1M214 171.5h2M216 172.5h1M217 173.5h1M218 174.5h2M220 175.5h1M221 176.5h2M223 177.5h2M225 178.5h2M227 179.5h2M229 180.5h2M231 181.5h2M233 182.5h2M235 183.5h2M237 184.5h2M239 185.5h1M239 186.5h1M240 187.5h1M241 188.5h1M242 189.5h1M242 190.5h1M243 191.5h1M244 192.5h1M245 193.5h1M245 194.5h1M246 195.5h1M246 196.5h1M247 197.5h1M247 198.5h1M248 199.5h1M249 200.5h1M249 201.5h1M250 202.5h1M250 203.5h1M251 204.5h1M252 205.5h1M252 206.5h1M253 207.5h1M253 208.5h1M254 209.5h1M254 210.5h1M255 211.5h1M256 212.5h1M257 213.5h1M257 214.5h1M258 215.5h1M259 216.5h1M260 217.5h1M260 218.5h1M261 219.5h1M262 220.5h1M263 221.5h1M263 222.5h1M264 223.5h1M265 224.5h1M266 225.5h1M266 226.5h1M267 227.5h1M268 228.5h1M269 229.5h1M269 230.5h1M270 231.5h1M271 232.5h1M272 233.5h1M273 234.5h1M274 235.5h1M275 236.5h1M276 237.5h1M277 238.5h2M279 239.5h1M280 240.5h1M281 241.5h1M282 242.5h1M283 243.5h1M284 244.5h1M285 245.5h1M286 246.5h2M288 247.5h1M289 248.5h2M291 249.5h1M479 249.5h1M292 250.5h1M477 250.5h2M480 250.5h1M293 251.5h2M475 251.5h2M481 251.5h2M295 252.5h3M473 252.5h2M483 252.5h1M298 253.5h4M472 253.5h1M484 253.5h1M302 254.5h2M382 254.5h19M470 254.5h2M485 254.5h2M304 255.5h1M380 255.5h2M401 255.5h2M468 255.5h2M487 255.5h2M581 255.5h4M305 256.5h1M352 256.5h2M378 256.5h2M403 256.5h2M466 256.5h2M489 256.5h2M577 256.5h4M585 256.5h2M306 257.5h1M350 257.5h2M354 257.5h2M374 257.5h4M405 257.5h2M464 257.5h2M491 257.5h2M572 257.5h5M587 257.5h2M307 258.5h1M348 258.5h2M356 258.5h2M368 258.5h6M407 258.5h4M444 258.5h20M493 258.5h4M568 258.5h4M589 258.5h2M308 259.5h1M346 259.5h2M358 259.5h2M363 259.5h5M411 259.5h8M430 259.5h14M497 259.5h6M516 259.5h5M564 259.5h4M591 259.5h2M309 260.5h1M343 260.5h3M360 260.5h3M419 260.5h11M503 260.5h6M513 260.5h3M521 260.5h6M561 260.5h3M593 260.5h2M310 261.5h1M341 261.5h2M509 261.5h4M527 261.5h6M557 261.5h4M595 261.5h1M311 262.5h1M338 262.5h3M533 262.5h6M549 262.5h8M596 262.5h1M312 263.5h1M336 263.5h2M539 263.5h10M597 263.5h2M313 264.5h1M335 264.5h1M599 264.5h1M314 265.5h1M333 265.5h2M600 265.5h1M315 266.5h1M332 266.5h1M601 266.5h2M316 267.5h1M331 267.5h1M603 267.5h1M317 268.5h2M330 268.5h1M604 268.5h2M319 269.5h3M329 269.5h1M606 269.5h2M322 270.5h4M328 270.5h1M608 270.5h3M326 271.5h2M611 271.5h2M613 272.5h2M615 273.5h2M616 274.5h1M617 275.5h1M617 276.5h1M618 277.5h1M618 278.5h1M619 279.5h1M619 280.5h1M620 281.5h1M620 282.5h1M621 283.5h1M621 284.5h1M621 285.5h1M622 286.5h1M622 287.5h1M623 288.5h1M623 289.5h1M624 290.5h1M624 291.5h1M625 292.5h1M625 293.5h1M626 294.5h1M626 295.5h1M627 296.5h1M627 297.5h1M628 298.5h1M628 299.5h1M629 300.5h1M629 301.5h1M630 302.5h1M630 303.5h1M631 304.5h1M631 305.5h1M632 306.5h1M632 307.5h1M633 308.5h1M633 309.5h1M634 310.5h1M635 311.5h2M637 312.5h1M638 313.5h2M640 314.5h1M641 315.5h1M642 316.5h2M644 317.5h1M645 318.5h1M646 319.5h1M647 320.5h2M649 321.5h1M650 322.5h1M651 323.5h1M652 324.5h1M653 325.5h2M655 326.5h1M656 327.5h1M657 328.5h1M658 329.5h1M659 330.5h1M659 331.5h1M660 332.5h1M661 333.5h1M662 334.5h1M662 335.5h1M663 336.5h1M664 337.5h1M664 338.5h1M665 339.5h1M665 340.5h1M665 341.5h1M666 342.5h1M666 343.5h1M667 344.5h1M667 345.5h1M667 346.5h1M668 347.5h1M668 348.5h1M669 349.5h1M669 350.5h1M670 351.5h1M671 352.5h1M671 353.5h1M672 354.5h1M673 355.5h1M674 356.5h1M674 357.5h1M675 358.5h1M676 359.5h2M678 360.5h2M680 361.5h2M682 362.5h1M683 363.5h2M685 364.5h2M687 365.5h5M692 366.5h8M700 367.5h5M705 368.5h2M707 369.5h2M709 370.5h1M710 371.5h2M712 372.5h1M713 373.5h1M713 374.5h1M714 375.5h1M715 376.5h1M716 377.5h1M716 378.5h1M743 378.5h2M717 379.5h1M741 379.5h2M745 379.5h3M718 380.5h1M740 380.5h1M748 380.5h3M719 381.5h1M739 381.5h1M751 381.5h2M719 382.5h1M737 382.5h2M753 382.5h2M720 383.5h1M736 383.5h1M755 383.5h2M721 384.5h1M735 384.5h1M757 384.5h1M722 385.5h2M733 385.5h2M758 385.5h2M724 386.5h1M732 386.5h1M760 386.5h1M725 387.5h1M731 387.5h1M761 387.5h1M726 388.5h2M729 388.5h2M762 388.5h1M728 389.5h1M763 389.5h1M764 390.5h1M765 391.5h1M766 392.5h1M767 393.5h10M777 394.5h1M778 395.5h1M779 396.5h1M780 397.5h1M781 398.5h1M782 399.5h1M783 400.5h1M784 401.5h1M785 402.5h1M786 403.5h1M787 404.5h1M1352 404.5h9M788 405.5h1M1350 405.5h2M1361 405.5h2M788 406.5h1M1348 406.5h2M1363 406.5h2M789 407.5h1M1346 407.5h2M1365 407.5h2M790 408.5h1M1341 408.5h5M1367 408.5h3M791 409.5h1M1335 409.5h6M1370 409.5h3M791 410.5h1M1321 410.5h14M1373 410.5h3M792 411.5h1M1307 411.5h14M1376 411.5h3M793 412.5h1M1300 412.5h7M1379 412.5h3M793 413.5h1M1293 413.5h7M1382 413.5h2M794 414.5h1M1286 414.5h7M795 415.5h1M1279 415.5h7M796 416.5h1M1271 416.5h8M796 417.5h1M1262 417.5h9M797 418.5h1M1252 418.5h10M798 419.5h1M1245 419.5h7M799 420.5h1M1243 420.5h2M800 421.5h1M1240 421.5h3M801 422.5h1M1238 422.5h2M802 423.5h1M1236 423.5h2M803 424.5h1M1233 424.5h3M804 425.5h6M1231 425.5h2M810 426.5h6M1228 426.5h3M816 427.5h1M1225 427.5h3M817 428.5h2M1221 428.5h4M819 429.5h1M1199 429.5h11M1218 429.5h3M820 430.5h1M1189 430.5h10M1210 430.5h8M821 431.5h2M1182 431.5h7M823 432.5h1M1178 432.5h4M824 433.5h1M1174 433.5h4M825 434.5h2M896 434.5h1M1170 434.5h4M827 435.5h1M895 435.5h1M897 435.5h2M1168 435.5h2M828 436.5h2M893 436.5h2M899 436.5h2M910 436.5h2M1168 436.5h1M830 437.5h1M892 437.5h1M901 437.5h2M906 437.5h4M911 437.5h1M1167 437.5h1M831 438.5h2M864 438.5h3M891 438.5h1M903 438.5h3M911 438.5h1M1167 438.5h1M833 439.5h1M863 439.5h1M867 439.5h4M889 439.5h2M912 439.5h1M1166 439.5h1M834 440.5h1M861 440.5h2M871 440.5h18M912 440.5h1M1166 440.5h1M834 441.5h1M860 441.5h1M912 441.5h1M1165 441.5h1M835 442.5h1M859 442.5h1M912 442.5h1M1165 442.5h1M836 443.5h1M857 443.5h2M913 443.5h1M1164 443.5h1M836 444.5h1M856 444.5h1M913 444.5h1M1164 444.5h1M837 445.5h1M854 445.5h2M913 445.5h1M1163 445.5h1M838 446.5h1M852 446.5h2M913 446.5h1M1163 446.5h1M838 447.5h1M850 447.5h2M914 447.5h1M1162 447.5h1M839 448.5h11M914 448.5h1M1162 448.5h1M914 449.5h1M1161 449.5h1M914 450.5h1M1161 450.5h1M915 451.5h1M1160 451.5h1M915 452.5h1M1160 452.5h1M915 453.5h1M1159 453.5h1M915 454.5h1M1159 454.5h1M915 455.5h1M1158 455.5h1M916 456.5h1M1158 456.5h1M916 457.5h1M1157 457.5h1M916 458.5h1M1156 458.5h1M916 459.5h1M1156 459.5h1M916 460.5h1M1155 460.5h1M917 461.5h1M1155 461.5h1M917 462.5h1M1154 462.5h1M917 463.5h1M1154 463.5h1M917 464.5h1M1153 464.5h1M918 465.5h1M1153 465.5h1M918 466.5h1M1152 466.5h1M918 467.5h1M1152 467.5h1M919 468.5h1M1151 468.5h1M919 469.5h1M1151 469.5h1M919 470.5h1M1151 470.5h1M920 471.5h1M1150 471.5h1M920 472.5h1M1150 472.5h1M920 473.5h1M1149 473.5h1M921 474.5h1M1149 474.5h1M921 475.5h1M1148 475.5h1M921 476.5h1M1148 476.5h1M922 477.5h1M1147 477.5h1M922 478.5h1M1147 478.5h1M923 479.5h1M1146 479.5h1M923 480.5h1M1146 480.5h1M924 481.5h1M1145 481.5h1M924 482.5h1M1145 482.5h1M925 483.5h1M1144 483.5h1M925 484.5h1M1144 484.5h1M926 485.5h1M1143 485.5h1M926 486.5h1M1143 486.5h1M927 487.5h1M1142 487.5h1M928 488.5h2M1142 488.5h1M930 489.5h2M1142 489.5h1M932 490.5h2M1141 490.5h1M934 491.5h1M1141 491.5h1M935 492.5h1M1140 492.5h1M935 493.5h1M1140 493.5h1M936 494.5h1M1140 494.5h1M937 495.5h1M1139 495.5h1M937 496.5h1M1139 496.5h1M938 497.5h1M1138 497.5h1M939 498.5h1M1138 498.5h1M939 499.5h1M1138 499.5h1M940 500.5h1M1137 500.5h1M941 501.5h1M1137 501.5h1M941 502.5h1M1136 502.5h1M942 503.5h1M1136 503.5h1M943 504.5h1M1135 504.5h1M944 505.5h1M1135 505.5h1M945 506.5h1M1134 506.5h1M946 507.5h2M1134 507.5h1M948 508.5h1M1133 508.5h1M949 509.5h1M1133 509.5h1M950 510.5h1M1132 510.5h1M951 511.5h1M1132 511.5h1M952 512.5h1M1131 512.5h1M953 513.5h1M1131 513.5h1M954 514.5h1M1130 514.5h1M955 515.5h1M1130 515.5h1M956 516.5h1M1129 516.5h1M957 517.5h1M1129 517.5h1M958 518.5h1M1128 518.5h1M959 519.5h1M1126 519.5h2M960 520.5h1M1124 520.5h2M961 521.5h2M1122 521.5h2M963 522.5h2M1120 522.5h2M965 523.5h2M1118 523.5h2M967 524.5h1M1115 524.5h3M968 525.5h1M1111 525.5h4M969 526.5h1M1107 526.5h4M970 527.5h2M1105 527.5h2M972 528.5h1M1103 528.5h2M973 529.5h1M1101 529.5h2M974 530.5h1M1100 530.5h1M975 531.5h1M1098 531.5h2M976 532.5h1M1096 532.5h2M976 533.5h1M1085 533.5h11M977 534.5h1M1083 534.5h2M978 535.5h1M1081 535.5h2M978 536.5h1M1079 536.5h2M979 537.5h1M1078 537.5h1M980 538.5h1M1078 538.5h1M980 539.5h1M1077 539.5h1M981 540.5h1M1077 540.5h1M982 541.5h1M1076 541.5h1M982 542.5h1M1075 542.5h1M983 543.5h1M1075 543.5h1M984 544.5h2M1074 544.5h1M986 545.5h2M1074 545.5h1M988 546.5h2M1073 546.5h1M990 547.5h2M1046 547.5h7M1073 547.5h1M992 548.5h1M1040 548.5h6M1053 548.5h6M1067 548.5h6M993 549.5h2M1038 549.5h2M1059 549.5h8M995 550.5h1M1036 550.5h2M996 551.5h1M1034 551.5h2M997 552.5h2M1019 552.5h15M999 553.5h1M1015 553.5h4M1000 554.5h5M1011 554.5h4M1005 555.5h6" fill="none" stroke="#3cb371" stroke-width="1" shape-rendering="crispEdges"/>
<rect x="0" y="252" width="1650" height="1" fill="#ff0000"/>
<rect x="0" y="274" width="1650" height="1" fill="#ff0000"/>
<rect x="0" y="297" width="1650" height="1" fill="#c0c0c0"/>
<rect x="0" y="309" width="1650" height="1" fill="#32cd32"/>
<rect x="0" y="328" width="1650" height="1" fill="#0000ff"/>
<rect x="0" y="348" width="1650" height="1" fill="#0000ff"/>
<g shape-rendering="crispEdges">
<rect x="878" y="355" width="10" height="1" fill="#ff0000"/>
<rect x="1110" y="331" width="10" height="1" fill="#ff0000"/>
<rect x="918" y="568" width="10" height="1" fill="#ff0000"/>
<rect x="1302" y="309" width="10" height="1" fill="#ff0000"/>
<rect x="1312" y="309" width="8" height="1" fill="#32cd32"/>
<rect x="1302" y="307" width="3" height="4" fill="#ff0000"/>
<rect x="1303" y="308" width="1" height="2" fill="#fff"/>
</g>
<rect x="816.5" y="346.5" width="61" height="18" fill="#fff" stroke="#ff0000" stroke-width="1"/>
<text x="847.0" y="361.1" font-size="16" fill="#ff0000" text-anchor="middle" font-family="Liberation Sans, sans-serif" textLength="58" lengthAdjust="spacingAndGlyphs">27394.0</text>
<rect x="1048.5" y="322.5" width="61" height="18" fill="#fff" stroke="#ff0000" stroke-width="1"/>
<text x="1079.0" y="337.1" font-size="16" fill="#ff0000" text-anchor="middle" font-family="Liberation Sans, sans-serif" textLength="58" lengthAdjust="spacingAndGlyphs">27551.9</text>
<rect x="856.5" y="559.5" width="61" height="18" fill="#fff" stroke="#ff0000" stroke-width="1"/>
<text x="887.0" y="574.1" font-size="16" fill="#ff0000" text-anchor="middle" font-family="Liberation Sans, sans-serif" textLength="58" lengthAdjust="spacingAndGlyphs">26006.3</text>
<rect x="1240.5" y="300.5" width="61" height="18" fill="#fff" stroke="#ff0000" stroke-width="1"/>
<text x="1271.0" y="315.1" font-size="16" fill="#ff0000" text-anchor="middle" font-family="Liberation Sans, sans-serif" textLength="58" lengthAdjust="spacingAndGlyphs">27695.4</text>
<rect x="-1" y="138" width="1" height="5" fill="#000"/>
<rect x="-3" y="138" width="5" height="5" fill="#000"/>
<rect x="7" y="139" width="1" height="18" fill="#000"/>
<rect x="5" y="143" width="5" height="7" fill="#000"/>
<rect x="15" y="140" width="1" height="14" fill="#000"/>
<rect x="13" y="145" width="5" height="5" fill="#000"/>
<rect x="14" y="146" width="3" height="3" fill="#fff"/>
<rect x="23" y="133" width="1" height="19" fill="#000"/>
<rect x="21" y="137" width="5" height="9" fill="#000"/>
<rect x="22" y="138" width="3" height="7" fill="#fff"/>
<rect x="31" y="118" width="1" height="28" fill="#000"/>
<rect x="29" y="121" width="5" height="17" fill="#000"/>
<rect x="30" y="122" width="3" height="15" fill="#fff"/>
<rect x="39" y="114" width="1" height="10" fill="#000"/>
<rect x="37" y="116" width="5" height="6" fill="#000"/>
<rect x="38" y="117" width="3" height="4" fill="#fff"/>
<rect x="47" y="107" width="1" height="20" fill="#000"/>
<rect x="45" y="109" width="5" height="13" fill="#000"/>
<rect x="55" y="106" width="1" height="18" fill="#000"/>
<rect x="53" y="119" width="5" height="1" fill="#000"/>
<rect x="63" y="110" width="1" height="24" fill="#000"/>
<rect x="61" y="115" width="5" height="5" fill="#000"/>
<rect x="62" y="116" width="3" height="3" fill="#fff"/>
<rect x="71" y="112" width="1" height="29" fill="#000"/>
<rect x="69" y="115" width="5" height="19" fill="#000"/>
<rect x="79" y="113" width="1" height="24" fill="#000"/>
<rect x="77" y="128" width="5" height="8" fill="#000"/>
<rect x="78" y="129" width="3" height="6" fill="#fff"/>
<rect x="87" y="117" width="1" height="20" fill="#000"/>
<rect x="85" y="127" width="5" height="8" fill="#000"/>
<rect x="95" y="95" width="1" height="26" fill="#000"/>
<rect x="93" y="98" width="5" height="17" fill="#000"/>
<rect x="94" y="99" width="3" height="15" fill="#fff"/>
<rect x="103" y="95" width="1" height="28" fill="#000"/>
<rect x="101" y="96" width="5" height="7" fill="#000"/>
<rect x="102" y="97" width="3" height="5" fill="#fff"/>
<rect x="183" y="100" width="1" height="7" fill="#000"/>
<rect x="181" y="101" width="5" height="1" fill="#000"/>
<rect x="191" y="106" width="1" height="13" fill="#000"/>
<rect x="189" y="108" width="5" height="2" fill="#000"/>
<rect x="199" y="106" width="1" height="78" fill="#000"/>
<rect x="197" y="109" width="5" height="68" fill="#000"/>
<rect x="207" y="149" width="1" height="45" fill="#000"/>
<rect x="205" y="155" width="5" height="21" fill="#000"/>
<rect x="206" y="156" width="3" height="19" fill="#fff"/>
<rect x="215" y="145" width="1" height="19" fill="#000"/>
<rect x="213" y="154" width="5" height="9" fill="#000"/>
<rect x="223" y="137" width="1" height="43" fill="#000"/>
<rect x="221" y="151" width="5" height="13" fill="#000"/>
<rect x="222" y="152" width="3" height="11" fill="#fff"/>
<rect x="231" y="142" width="1" height="17" fill="#000"/>
<rect x="229" y="152" width="5" height="3" fill="#000"/>
<rect x="239" y="146" width="1" height="16" fill="#000"/>
<rect x="237" y="153" width="5" height="7" fill="#000"/>
<rect x="247" y="143" width="1" height="81" fill="#000"/>
<rect x="245" y="155" width="5" height="45" fill="#000"/>
<rect x="255" y="189" width="1" height="23" fill="#000"/>
<rect x="253" y="194" width="5" height="6" fill="#000"/>
<rect x="254" y="195" width="3" height="4" fill="#fff"/>
<rect x="263" y="192" width="1" height="23" fill="#000"/>
<rect x="261" y="193" width="5" height="7" fill="#000"/>
<rect x="271" y="197" width="1" height="42" fill="#000"/>
<rect x="269" y="199" width="5" height="8" fill="#000"/>
<rect x="279" y="197" width="1" height="15" fill="#000"/>
<rect x="277" y="201" width="5" height="5" fill="#000"/>
<rect x="278" y="202" width="3" height="3" fill="#fff"/>
<rect x="287" y="202" width="1" height="24" fill="#000"/>
<rect x="285" y="208" width="5" height="16" fill="#000"/>
<rect x="286" y="209" width="3" height="14" fill="#fff"/>
<rect x="295" y="200" width="1" height="22" fill="#000"/>
<rect x="293" y="201" width="5" height="7" fill="#000"/>
<rect x="294" y="202" width="3" height="5" fill="#fff"/>
<rect x="303" y="178" width="1" height="26" fill="#000"/>
<rect x="301" y="192" width="5" height="11" fill="#000"/>
<rect x="302" y="193" width="3" height="9" fill="#fff"/>
<rect x="311" y="190" width="1" height="58" fill="#000"/>
<rect x="309" y="192" width="5" height="54" fill="#000"/>
<rect x="319" y="241" width="1" height="46" fill="#000"/>
<rect x="317" y="242" width="5" height="5" fill="#000"/>
<rect x="318" y="243" width="3" height="3" fill="#fff"/>
<rect x="327" y="234" width="1" height="20" fill="#000"/>
<rect x="325" y="240" width="5" height="3" fill="#000"/>
<rect x="326" y="241" width="3" height="1" fill="#fff"/>
<rect x="335" y="206" width="1" height="26" fill="#000"/>
<rect x="333" y="211" width="5" height="17" fill="#000"/>
<rect x="334" y="212" width="3" height="15" fill="#fff"/>
<rect x="343" y="193" width="1" height="63" fill="#000"/>
<rect x="341" y="210" width="5" height="15" fill="#000"/>
<rect x="351" y="216" width="1" height="32" fill="#000"/>
<rect x="349" y="219" width="5" height="7" fill="#000"/>
<rect x="350" y="220" width="3" height="5" fill="#fff"/>
<rect x="359" y="218" width="1" height="29" fill="#000"/>
<rect x="357" y="218" width="5" height="22" fill="#000"/>
<rect x="367" y="196" width="1" height="47" fill="#000"/>
<rect x="365" y="198" width="5" height="42" fill="#000"/>
<rect x="366" y="199" width="3" height="40" fill="#fff"/>
<rect x="375" y="194" width="1" height="9" fill="#000"/>
<rect x="373" y="197" width="5" height="2" fill="#000"/>
<rect x="383" y="192" width="1" height="10" fill="#000"/>
<rect x="381" y="194" width="5" height="4" fill="#000"/>
<rect x="382" y="195" width="3" height="2" fill="#fff"/>
<rect x="391" y="149" width="1" height="47" fill="#000"/>
<rect x="389" y="150" width="5" height="46" fill="#000"/>
<rect x="390" y="151" width="3" height="44" fill="#fff"/>
<rect x="399" y="143" width="1" height="29" fill="#000"/>
<rect x="397" y="151" width="5" height="11" fill="#000"/>
<rect x="407" y="144" width="1" height="20" fill="#000"/>
<rect x="405" y="147" width="5" height="14" fill="#000"/>
<rect x="406" y="148" width="3" height="12" fill="#fff"/>
<rect x="415" y="143" width="1" height="26" fill="#000"/>
<rect x="413" y="148" width="5" height="19" fill="#000"/>
<rect x="423" y="163" width="1" height="10" fill="#000"/>
<rect x="421" y="164" width="5" height="4" fill="#000"/>
<rect x="422" y="165" width="3" height="2" fill="#fff"/>
<rect x="431" y="162" width="1" height="11" fill="#000"/>
<rect x="429" y="164" width="5" height="6" fill="#000"/>
<rect x="439" y="166" width="1" height="29" fill="#000"/>
<rect x="437" y="168" width="5" height="23" fill="#000"/>
<rect x="447" y="172" width="1" height="26" fill="#000"/>
<rect x="445" y="176" width="5" height="16" fill="#000"/>
<rect x="446" y="177" width="3" height="14" fill="#fff"/>
<rect x="455" y="166" width="1" height="16" fill="#000"/>
<rect x="453" y="170" width="5" height="5" fill="#000"/>
<rect x="454" y="171" width="3" height="3" fill="#fff"/>
<rect x="463" y="162" width="1" height="42" fill="#000"/>
<rect x="461" y="168" width="5" height="31" fill="#000"/>
<rect x="471" y="193" width="1" height="30" fill="#000"/>
<rect x="469" y="197" width="5" height="24" fill="#000"/>
<rect x="479" y="215" width="1" height="16" fill="#000"/>
<rect x="477" y="224" width="5" height="1" fill="#000"/>
<rect x="487" y="223" width="1" height="63" fill="#000"/>
<rect x="485" y="232" width="5" height="33" fill="#000"/>
<rect x="495" y="224" width="1" height="42" fill="#000"/>
<rect x="493" y="226" width="5" height="38" fill="#000"/>
<rect x="494" y="227" width="3" height="36" fill="#fff"/>
<rect x="503" y="221" width="1" height="41" fill="#000"/>
<rect x="501" y="225" width="5" height="12" fill="#000"/>
<rect x="511" y="231" width="1" height="21" fill="#000"/>
<rect x="509" y="234" width="5" height="3" fill="#000"/>
<rect x="510" y="235" width="3" height="1" fill="#fff"/>
<rect x="519" y="224" width="1" height="14" fill="#000"/>
<rect x="517" y="227" width="5" height="8" fill="#000"/>
<rect x="518" y="228" width="3" height="6" fill="#fff"/>
<rect x="527" y="206" width="1" height="14" fill="#000"/>
<rect x="525" y="216" width="5" height="4" fill="#000"/>
<rect x="526" y="217" width="3" height="2" fill="#fff"/>
<rect x="535" y="197" width="1" height="28" fill="#000"/>
<rect x="533" y="214" width="5" height="3" fill="#000"/>
<rect x="534" y="215" width="3" height="1" fill="#fff"/>
<rect x="543" y="205" width="1" height="15" fill="#000"/>
<rect x="541" y="207" width="5" height="5" fill="#000"/>
<rect x="542" y="208" width="3" height="3" fill="#fff"/>
<rect x="551" y="203" width="1" height="5" fill="#000"/>
<rect x="549" y="206" width="5" height="3" fill="#000"/>
<rect x="550" y="207" width="3" height="1" fill="#fff"/>
<rect x="559" y="202" width="1" height="6" fill="#000"/>
<rect x="557" y="205" width="5" height="2" fill="#000"/>
<rect x="567" y="203" width="1" height="4" fill="#000"/>
<rect x="565" y="206" width="5" height="1" fill="#000"/>
<rect x="575" y="196" width="1" height="12" fill="#000"/>
<rect x="573" y="197" width="5" height="11" fill="#000"/>
<rect x="574" y="198" width="3" height="9" fill="#fff"/>
<rect x="583" y="153" width="1" height="53" fill="#000"/>
<rect x="581" y="195" width="5" height="3" fill="#000"/>
<rect x="582" y="196" width="3" height="1" fill="#fff"/>
<rect x="591" y="189" width="1" height="77" fill="#000"/>
<rect x="589" y="194" width="5" height="61" fill="#000"/>
<rect x="599" y="247" width="1" height="20" fill="#000"/>
<rect x="597" y="255" width="5" height="7" fill="#000"/>
<rect x="607" y="245" width="1" height="29" fill="#000"/>
<rect x="605" y="262" width="5" height="4" fill="#000"/>
<rect x="615" y="248" width="1" height="20" fill="#000"/>
<rect x="613" y="264" width="5" height="2" fill="#000"/>
<rect x="623" y="269" width="1" height="28" fill="#000"/>
<rect x="621" y="270" width="5" height="27" fill="#000"/>
<rect x="631" y="286" width="1" height="50" fill="#000"/>
<rect x="629" y="295" width="5" height="33" fill="#000"/>
<rect x="639" y="299" width="1" height="75" fill="#000"/>
<rect x="637" y="304" width="5" height="26" fill="#000"/>
<rect x="638" y="305" width="3" height="24" fill="#fff"/>
<rect x="647" y="285" width="1" height="19" fill="#000"/>
<rect x="645" y="288" width="5" height="16" fill="#000"/>
<rect x="646" y="289" width="3" height="14" fill="#fff"/>
<rect x="655" y="286" width="1" height="41" fill="#000"/>
<rect x="653" y="287" width="5" height="17" fill="#000"/>
<rect x="663" y="302" width="1" height="21" fill="#000"/>
<rect x="661" y="304" width="5" height="15" fill="#000"/>
<rect x="671" y="330" width="1" height="34" fill="#000"/>
<rect x="669" y="336" width="5" height="28" fill="#000"/>
<rect x="679" y="304" width="1" height="85" fill="#000"/>
<rect x="677" y="304" width="5" height="54" fill="#000"/>
<rect x="678" y="305" width="3" height="52" fill="#fff"/>
<rect x="687" y="285" width="1" height="41" fill="#000"/>
<rect x="685" y="304" width="5" height="4" fill="#000"/>
<rect x="695" y="290" width="1" height="21" fill="#000"/>
<rect x="693" y="291" width="5" height="17" fill="#000"/>
<rect x="694" y="292" width="3" height="15" fill="#fff"/>
<rect x="703" y="273" width="1" height="27" fill="#000"/>
<rect x="701" y="285" width="5" height="6" fill="#000"/>
<rect x="702" y="286" width="3" height="4" fill="#fff"/>
<rect x="711" y="277" width="1" height="55" fill="#000"/>
<rect x="709" y="286" width="5" height="46" fill="#000"/>
<rect x="719" y="359" width="1" height="22" fill="#000"/>
<rect x="717" y="371" width="5" height="6" fill="#000"/>
<rect x="727" y="353" width="1" height="49" fill="#000"/>
<rect x="725" y="371" width="5" height="1" fill="#000"/>
<rect x="735" y="312" width="1" height="62" fill="#000"/>
<rect x="733" y="318" width="5" height="54" fill="#000"/>
<rect x="734" y="319" width="3" height="52" fill="#fff"/>
<rect x="743" y="316" width="1" height="32" fill="#000"/>
<rect x="741" y="318" width="5" height="27" fill="#000"/>
<rect x="751" y="323" width="1" height="42" fill="#000"/>
<rect x="749" y="345" width="5" height="2" fill="#000"/>
<rect x="759" y="345" width="1" height="30" fill="#000"/>
<rect x="757" y="347" width="5" height="28" fill="#000"/>
<rect x="767" y="361" width="1" height="32" fill="#000"/>
<rect x="765" y="378" width="5" height="5" fill="#000"/>
<rect x="775" y="344" width="1" height="47" fill="#000"/>
<rect x="773" y="352" width="5" height="33" fill="#000"/>
<rect x="774" y="353" width="3" height="31" fill="#fff"/>
<rect x="783" y="324" width="1" height="64" fill="#000"/>
<rect x="781" y="353" width="5" height="29" fill="#000"/>
<rect x="791" y="365" width="1" height="41" fill="#000"/>
<rect x="789" y="382" width="5" height="21" fill="#000"/>
<rect x="799" y="387" width="1" height="79" fill="#000"/>
<rect x="797" y="402" width="5" height="21" fill="#000"/>
<rect x="807" y="382" width="1" height="74" fill="#000"/>
<rect x="805" y="389" width="5" height="33" fill="#000"/>
<rect x="806" y="390" width="3" height="31" fill="#fff"/>
<rect x="815" y="351" width="1" height="29" fill="#000"/>
<rect x="813" y="352" width="5" height="18" fill="#000"/>
<rect x="814" y="353" width="3" height="16" fill="#fff"/>
<rect x="823" y="347" width="1" height="73" fill="#000"/>
<rect x="821" y="351" width="5" height="61" fill="#000"/>
<rect x="831" y="387" width="1" height="52" fill="#000"/>
<rect x="829" y="404" width="5" height="7" fill="#000"/>
<rect x="830" y="405" width="3" height="5" fill="#fff"/>
<rect x="839" y="397" width="1" height="39" fill="#000"/>
<rect x="837" y="405" width="5" height="31" fill="#000"/>
<rect x="847" y="384" width="1" height="59" fill="#000"/>
<rect x="845" y="385" width="5" height="51" fill="#000"/>
<rect x="846" y="386" width="3" height="49" fill="#fff"/>
<rect x="855" y="365" width="1" height="37" fill="#000"/>
<rect x="853" y="385" width="5" height="5" fill="#000"/>
<rect x="863" y="387" width="1" height="17" fill="#000"/>
<rect x="861" y="394" width="5" height="9" fill="#000"/>
<rect x="871" y="391" width="1" height="53" fill="#000"/>
<rect x="869" y="401" width="5" height="7" fill="#000"/>
<rect x="879" y="364" width="1" height="59" fill="#000"/>
<rect x="877" y="367" width="5" height="39" fill="#000"/>
<rect x="878" y="368" width="3" height="37" fill="#fff"/>
<rect x="887" y="355" width="1" height="29" fill="#000"/>
<rect x="885" y="367" width="5" height="4" fill="#000"/>
<rect x="895" y="366" width="1" height="36" fill="#000"/>
<rect x="893" y="370" width="5" height="12" fill="#000"/>
<rect x="903" y="361" width="1" height="91" fill="#000"/>
<rect x="901" y="381" width="5" height="49" fill="#000"/>
<rect x="911" y="393" width="1" height="24" fill="#000"/>
<rect x="909" y="394" width="5" height="23" fill="#000"/>
<rect x="910" y="395" width="3" height="21" fill="#fff"/>
<rect x="919" y="389" width="1" height="170" fill="#000"/>
<rect x="917" y="393" width="5" height="139" fill="#000"/>
<rect x="927" y="469" width="1" height="100" fill="#000"/>
<rect x="925" y="487" width="5" height="45" fill="#000"/>
<rect x="926" y="488" width="3" height="43" fill="#fff"/>
<rect x="935" y="441" width="1" height="54" fill="#000"/>
<rect x="933" y="448" width="5" height="40" fill="#000"/>
<rect x="934" y="449" width="3" height="38" fill="#fff"/>
<rect x="943" y="446" width="1" height="63" fill="#000"/>
<rect x="941" y="446" width="5" height="50" fill="#000"/>
<rect x="951" y="471" width="1" height="34" fill="#000"/>
<rect x="949" y="480" width="5" height="14" fill="#000"/>
<rect x="950" y="481" width="3" height="12" fill="#fff"/>
<rect x="959" y="472" width="1" height="18" fill="#000"/>
<rect x="957" y="473" width="5" height="17" fill="#000"/>
<rect x="967" y="451" width="1" height="78" fill="#000"/>
<rect x="965" y="468" width="5" height="25" fill="#000"/>
<rect x="966" y="469" width="3" height="23" fill="#fff"/>
<rect x="975" y="456" width="1" height="51" fill="#000"/>
<rect x="973" y="467" width="5" height="37" fill="#000"/>
<rect x="983" y="493" width="1" height="44" fill="#000"/>
<rect x="981" y="503" width="5" height="19" fill="#000"/>
<rect x="991" y="470" width="1" height="60" fill="#000"/>
<rect x="989" y="482" width="5" height="38" fill="#000"/>
<rect x="990" y="483" width="3" height="36" fill="#fff"/>
<rect x="999" y="479" width="1" height="42" fill="#000"/>
<rect x="997" y="482" width="5" height="13" fill="#000"/>
<rect x="1007" y="468" width="1" height="15" fill="#000"/>
<rect x="1005" y="470" width="5" height="1" fill="#000"/>
<rect x="1015" y="399" width="1" height="94" fill="#000"/>
<rect x="1013" y="401" width="5" height="68" fill="#000"/>
<rect x="1014" y="402" width="3" height="66" fill="#fff"/>
<rect x="1023" y="401" width="1" height="33" fill="#000"/>
<rect x="1021" y="401" width="5" height="27" fill="#000"/>
<rect x="1031" y="418" width="1" height="28" fill="#000"/>
<rect x="1029" y="424" width="5" height="5" fill="#000"/>
<rect x="1030" y="425" width="3" height="3" fill="#fff"/>
<rect x="1039" y="395" width="1" height="34" fill="#000"/>
<rect x="1037" y="401" width="5" height="21" fill="#000"/>
<rect x="1038" y="402" width="3" height="19" fill="#fff"/>
<rect x="1047" y="379" width="1" height="24" fill="#000"/>
<rect x="1045" y="383" width="5" height="19" fill="#000"/>
<rect x="1046" y="384" width="3" height="17" fill="#fff"/>
<rect x="1055" y="371" width="1" height="9" fill="#000"/>
<rect x="1053" y="374" width="5" height="1" fill="#000"/>
<rect x="1063" y="357" width="1" height="49" fill="#000"/>
<rect x="1061" y="374" width="5" height="31" fill="#000"/>
<rect x="1071" y="388" width="1" height="30" fill="#000"/>
<rect x="1069" y="404" width="5" height="1" fill="#000"/>
<rect x="1079" y="392" width="1" height="17" fill="#000"/>
<rect x="1077" y="404" width="5" height="2" fill="#000"/>
<rect x="1087" y="396" width="1" height="27" fill="#000"/>
<rect x="1085" y="404" width="5" height="3" fill="#000"/>
<rect x="1095" y="396" width="1" height="19" fill="#000"/>
<rect x="1093" y="396" width="5" height="11" fill="#000"/>
<rect x="1094" y="397" width="3" height="9" fill="#fff"/>
<rect x="1103" y="370" width="1" height="16" fill="#000"/>
<rect x="1101" y="374" width="5" height="9" fill="#000"/>
<rect x="1102" y="375" width="3" height="7" fill="#fff"/>
<rect x="1111" y="335" width="1" height="39" fill="#000"/>
<rect x="1109" y="344" width="5" height="28" fill="#000"/>
<rect x="1110" y="345" width="3" height="26" fill="#fff"/>
<rect x="1119" y="331" width="1" height="22" fill="#000"/>
<rect x="1117" y="340" width="5" height="6" fill="#000"/>
<rect x="1118" y="341" width="3" height="4" fill="#fff"/>
<rect x="1127" y="338" width="1" height="22" fill="#000"/>
<rect x="1125" y="340" width="5" height="13" fill="#000"/>
<rect x="1135" y="343" width="1" height="27" fill="#000"/>
<rect x="1133" y="352" width="5" height="4" fill="#000"/>
<rect x="1143" y="344" width="1" height="15" fill="#000"/>
<rect x="1141" y="346" width="5" height="9" fill="#000"/>
<rect x="1142" y="347" width="3" height="7" fill="#fff"/>
<rect x="1151" y="368" width="1" height="21" fill="#000"/>
<rect x="1149" y="371" width="5" height="14" fill="#000"/>
<rect x="1159" y="371" width="1" height="25" fill="#000"/>
<rect x="1157" y="382" width="5" height="4" fill="#000"/>
<rect x="1158" y="383" width="3" height="2" fill="#fff"/>
<rect x="1167" y="375" width="1" height="20" fill="#000"/>
<rect x="1165" y="382" width="5" height="9" fill="#000"/>
<rect x="1175" y="378" width="1" height="26" fill="#000"/>
<rect x="1173" y="391" width="5" height="11" fill="#000"/>
<rect x="1183" y="376" width="1" height="29" fill="#000"/>
<rect x="1181" y="402" width="5" height="1" fill="#000"/>
<rect x="1191" y="396" width="1" height="26" fill="#000"/>
<rect x="1189" y="401" width="5" height="18" fill="#000"/>
<rect x="1199" y="395" width="1" height="10" fill="#000"/>
<rect x="1197" y="397" width="5" height="4" fill="#000"/>
<rect x="1207" y="368" width="1" height="42" fill="#000"/>
<rect x="1205" y="378" width="5" height="22" fill="#000"/>
<rect x="1206" y="379" width="3" height="20" fill="#fff"/>
<rect x="1215" y="351" width="1" height="33" fill="#000"/>
<rect x="1213" y="377" width="5" height="5" fill="#000"/>
<rect x="1223" y="372" width="1" height="26" fill="#000"/>
<rect x="1221" y="380" width="5" height="2" fill="#000"/>
<rect x="1231" y="359" width="1" height="37" fill="#000"/>
<rect x="1229" y="361" width="5" height="19" fill="#000"/>
<rect x="1230" y="362" width="3" height="17" fill="#fff"/>
<rect x="1239" y="353" width="1" height="18" fill="#000"/>
<rect x="1237" y="355" width="5" height="5" fill="#000"/>
<rect x="1238" y="356" width="3" height="3" fill="#fff"/>
<rect x="1247" y="368" width="1" height="15" fill="#000"/>
<rect x="1245" y="374" width="5" height="2" fill="#000"/>
<rect x="1255" y="371" width="1" height="37" fill="#000"/>
<rect x="1253" y="376" width="5" height="15" fill="#000"/>
<rect x="1263" y="373" width="1" height="26" fill="#000"/>
<rect x="1261" y="391" width="5" height="1" fill="#000"/>
<rect x="1271" y="371" width="1" height="27" fill="#000"/>
<rect x="1269" y="372" width="5" height="20" fill="#000"/>
<rect x="1270" y="373" width="3" height="18" fill="#fff"/>
<rect x="1279" y="370" width="1" height="20" fill="#000"/>
<rect x="1277" y="371" width="5" height="7" fill="#000"/>
<rect x="1287" y="364" width="1" height="18" fill="#000"/>
<rect x="1285" y="376" width="5" height="5" fill="#000"/>
<rect x="1295" y="374" width="1" height="14" fill="#000"/>
<rect x="1293" y="374" width="5" height="7" fill="#000"/>
<rect x="1294" y="375" width="3" height="5" fill="#fff"/>
<rect x="1303" y="348" width="1" height="25" fill="#000"/>
<rect x="1301" y="368" width="5" height="5" fill="#000"/>
<rect x="1311" y="366" width="1" height="17" fill="#000"/>
<rect x="1309" y="372" width="5" height="6" fill="#000"/>
<rect x="1319" y="375" width="1" height="13" fill="#000"/>
<rect x="1317" y="376" width="5" height="5" fill="#000"/>
<rect x="1327" y="357" width="1" height="32" fill="#000"/>
<rect x="1325" y="362" width="5" height="18" fill="#000"/>
<rect x="1326" y="363" width="3" height="16" fill="#fff"/>
<rect x="1335" y="352" width="1" height="19" fill="#000"/>
<rect x="1333" y="355" width="5" height="7" fill="#000"/>
<rect x="1334" y="356" width="3" height="5" fill="#fff"/>
<rect x="1343" y="344" width="1" height="12" fill="#000"/>
<rect x="1341" y="344" width="5" height="6" fill="#000"/>
<rect x="1342" y="345" width="3" height="4" fill="#fff"/>
<rect x="1351" y="328" width="1" height="31" fill="#000"/>
<rect x="1349" y="328" width="5" height="15" fill="#000"/>
<rect x="1350" y="329" width="3" height="13" fill="#fff"/>
<rect x="1359" y="324" width="1" height="16" fill="#000"/>
<rect x="1357" y="325" width="5" height="5" fill="#000"/>
<rect x="1358" y="326" width="3" height="3" fill="#fff"/>
<rect x="1367" y="316" width="1" height="12" fill="#000"/>
<rect x="1365" y="319" width="5" height="5" fill="#000"/>
<rect x="1366" y="320" width="3" height="3" fill="#fff"/>
<rect x="1375" y="309" width="1" height="15" fill="#000"/>
<rect x="1373" y="309" width="5" height="11" fill="#000"/>
<rect x="1374" y="310" width="3" height="9" fill="#fff"/>
<rect x="1383" y="293" width="1" height="16" fill="#000"/>
<rect x="1381" y="298" width="5" height="11" fill="#000"/>
<rect x="1382" y="299" width="3" height="9" fill="#fff"/>
</g>
<rect x="1320" y="305" width="154" height="8" fill="#00ff00" shape-rendering="crispEdges"/>
<line x1="1261.0" y1="408.0" x2="1386.2" y2="299.9" stroke="#ff0000" stroke-width="3.0" stroke-linecap="round"/>
<polygon points="1393.0,294.0 1387.6,304.6 1381.7,297.8" fill="#ff0000"/>
<polygon points="1394,28 1405,28 1399.5,33" fill="#c0c0c0"/>
<g clip-path="url(#c2)">
<rect x="7" y="640" width="1" height="5" fill="#c0c0c0"/>
<rect x="15" y="644" width="1" height="1" fill="#c0c0c0"/>
<rect x="23" y="644" width="1" height="1" fill="#c0c0c0"/>
<rect x="31" y="640" width="1" height="5" fill="#c0c0c0"/>
<rect x="39" y="637" width="1" height="8" fill="#c0c0c0"/>
<rect x="47" y="635" width="1" height="10" fill="#c0c0c0"/>
<rect x="55" y="634" width="1" height="11" fill="#c0c0c0"/>
<rect x="63" y="632" width="1" height="13" fill="#c0c0c0"/>
<rect x="71" y="634" width="1" height="11" fill="#c0c0c0"/>
<rect x="79" y="635" width="1" height="10" fill="#c0c0c0"/>
<rect x="87" y="637" width="1" height="8" fill="#c0c0c0"/>
<rect x="95" y="634" width="1" height="11" fill="#c0c0c0"/>
<rect x="103" y="623" width="1" height="22" fill="#c0c0c0"/>
<rect x="111" y="616" width="1" height="29" fill="#c0c0c0"/>
<rect x="119" y="607" width="1" height="38" fill="#c0c0c0"/>
<rect x="127" y="605" width="1" height="40" fill="#c0c0c0"/>
<rect x="135" y="602" width="1" height="43" fill="#c0c0c0"/>
<rect x="143" y="600" width="1" height="45" fill="#c0c0c0"/>
<rect x="151" y="599" width="1" height="46" fill="#c0c0c0"/>
<rect x="159" y="599" width="1" height="46" fill="#c0c0c0"/>
<rect x="167" y="599" width="1" height="46" fill="#c0c0c0"/>
<rect x="175" y="599" width="1" height="46" fill="#c0c0c0"/>
<rect x="183" y="607" width="1" height="38" fill="#c0c0c0"/>
<rect x="191" y="615" width="1" height="30" fill="#c0c0c0"/>
<rect x="199" y="636" width="1" height="9" fill="#c0c0c0"/>
<rect x="207" y="644" width="1" height="4" fill="#c0c0c0"/>
<rect x="215" y="644" width="1" height="15" fill="#c0c0c0"/>
<rect x="223" y="644" width="1" height="21" fill="#c0c0c0"/>
<rect x="231" y="644" width="1" height="26" fill="#c0c0c0"/>
<rect x="239" y="644" width="1" height="31" fill="#c0c0c0"/>
<rect x="247" y="644" width="1" height="42" fill="#c0c0c0"/>
<rect x="255" y="644" width="1" height="50" fill="#c0c0c0"/>
<rect x="263" y="644" width="1" height="56" fill="#c0c0c0"/>
<rect x="271" y="644" width="1" height="62" fill="#c0c0c0"/>
<rect x="279" y="644" width="1" height="65" fill="#c0c0c0"/>
<rect x="287" y="644" width="1" height="68" fill="#c0c0c0"/>
<rect x="295" y="644" width="1" height="68" fill="#c0c0c0"/>
<rect x="303" y="644" width="1" height="66" fill="#c0c0c0"/>
<rect x="311" y="644" width="1" height="74" fill="#c0c0c0"/>
<rect x="319" y="644" width="1" height="79" fill="#c0c0c0"/>
<rect x="327" y="644" width="1" height="82" fill="#c0c0c0"/>
<rect x="335" y="644" width="1" height="77" fill="#c0c0c0"/>
<rect x="343" y="644" width="1" height="75" fill="#c0c0c0"/>
<rect x="351" y="644" width="1" height="72" fill="#c0c0c0"/>
<rect x="359" y="644" width="1" height="72" fill="#c0c0c0"/>
<rect x="367" y="644" width="1" height="63" fill="#c0c0c0"/>
<rect x="375" y="644" width="1" height="56" fill="#c0c0c0"/>
<rect x="383" y="644" width="1" height="48" fill="#c0c0c0"/>
<rect x="391" y="644" width="1" height="33" fill="#c0c0c0"/>
<rect x="399" y="644" width="1" height="23" fill="#c0c0c0"/>
<rect x="407" y="644" width="1" height="12" fill="#c0c0c0"/>
<rect x="415" y="644" width="1" height="7" fill="#c0c0c0"/>
<rect x="423" y="644" width="1" height="3" fill="#c0c0c0"/>
<rect x="431" y="644" width="1" height="2" fill="#c0c0c0"/>
<rect x="439" y="644" width="1" height="3" fill="#c0c0c0"/>
<rect x="447" y="644" width="1" height="2" fill="#c0c0c0"/>
<rect x="455" y="643" width="1" height="2" fill="#c0c0c0"/>
<rect x="463" y="644" width="1" height="4" fill="#c0c0c0"/>
<rect x="471" y="644" width="1" height="11" fill="#c0c0c0"/>
<rect x="479" y="644" width="1" height="17" fill="#c0c0c0"/>
<rect x="487" y="644" width="1" height="32" fill="#c0c0c0"/>
<rect x="495" y="644" width="1" height="34" fill="#c0c0c0"/>
<rect x="503" y="644" width="1" height="37" fill="#c0c0c0"/>
<rect x="511" y="644" width="1" height="39" fill="#c0c0c0"/>
<rect x="519" y="644" width="1" height="39" fill="#c0c0c0"/>
<rect x="527" y="644" width="1" height="36" fill="#c0c0c0"/>
<rect x="535" y="644" width="1" height="32" fill="#c0c0c0"/>
<rect x="543" y="644" width="1" height="29" fill="#c0c0c0"/>
<rect x="551" y="644" width="1" height="25" fill="#c0c0c0"/>
<rect x="559" y="644" width="1" height="22" fill="#c0c0c0"/>
<rect x="567" y="644" width="1" height="19" fill="#c0c0c0"/>
<rect x="575" y="644" width="1" height="14" fill="#c0c0c0"/>
<rect x="583" y="644" width="1" height="9" fill="#c0c0c0"/>
<rect x="591" y="644" width="1" height="20" fill="#c0c0c0"/>
<rect x="599" y="644" width="1" height="28" fill="#c0c0c0"/>
<rect x="607" y="644" width="1" height="35" fill="#c0c0c0"/>
<rect x="615" y="644" width="1" height="39" fill="#c0c0c0"/>
<rect x="623" y="644" width="1" height="49" fill="#c0c0c0"/>
<rect x="631" y="644" width="1" height="64" fill="#c0c0c0"/>
<rect x="639" y="644" width="1" height="69" fill="#c0c0c0"/>
<rect x="647" y="644" width="1" height="69" fill="#c0c0c0"/>
<rect x="655" y="644" width="1" height="72" fill="#c0c0c0"/>
<rect x="663" y="644" width="1" height="75" fill="#c0c0c0"/>
<rect x="671" y="644" width="1" height="87" fill="#c0c0c0"/>
<rect x="679" y="644" width="1" height="84" fill="#c0c0c0"/>
<rect x="687" y="644" width="1" height="79" fill="#c0c0c0"/>
<rect x="695" y="644" width="1" height="73" fill="#c0c0c0"/>
<rect x="703" y="644" width="1" height="65" fill="#c0c0c0"/>
<rect x="711" y="644" width="1" height="69" fill="#c0c0c0"/>
<rect x="719" y="644" width="1" height="79" fill="#c0c0c0"/>
<rect x="727" y="644" width="1" height="86" fill="#c0c0c0"/>
<rect x="735" y="644" width="1" height="79" fill="#c0c0c0"/>
<rect x="743" y="644" width="1" height="77" fill="#c0c0c0"/>
<rect x="751" y="644" width="1" height="77" fill="#c0c0c0"/>
<rect x="759" y="644" width="1" height="81" fill="#c0c0c0"/>
<rect x="767" y="644" width="1" height="85" fill="#c0c0c0"/>
<rect x="775" y="644" width="1" height="81" fill="#c0c0c0"/>
<rect x="783" y="644" width="1" height="83" fill="#c0c0c0"/>
<rect x="791" y="644" width="1" height="87" fill="#c0c0c0"/>
<rect x="799" y="644" width="1" height="95" fill="#c0c0c0"/>
<rect x="807" y="644" width="1" height="92" fill="#c0c0c0"/>
<rect x="815" y="644" width="1" height="81" fill="#c0c0c0"/>
<rect x="823" y="644" width="1" height="85" fill="#c0c0c0"/>
<rect x="831" y="644" width="1" height="85" fill="#c0c0c0"/>
<rect x="839" y="644" width="1" height="90" fill="#c0c0c0"/>
<rect x="847" y="644" width="1" height="83" fill="#c0c0c0"/>
<rect x="855" y="644" width="1" height="77" fill="#c0c0c0"/>
<rect x="863" y="644" width="1" height="75" fill="#c0c0c0"/>
<rect x="871" y="644" width="1" height="73" fill="#c0c0c0"/>
<rect x="879" y="644" width="1" height="62" fill="#c0c0c0"/>
<rect x="887" y="644" width="1" height="54" fill="#c0c0c0"/>
<rect x="895" y="644" width="1" height="49" fill="#c0c0c0"/>
<rect x="903" y="644" width="1" height="55" fill="#c0c0c0"/>
<rect x="911" y="644" width="1" height="51" fill="#c0c0c0"/>
<rect x="919" y="644" width="1" height="76" fill="#c0c0c0"/>
<rect x="927" y="644" width="1" height="86" fill="#c0c0c0"/>
<rect x="935" y="644" width="1" height="84" fill="#c0c0c0"/>
<rect x="943" y="644" width="1" height="92" fill="#c0c0c0"/>
<rect x="951" y="644" width="1" height="94" fill="#c0c0c0"/>
<rect x="959" y="644" width="1" height="96" fill="#c0c0c0"/>
<rect x="967" y="644" width="1" height="92" fill="#c0c0c0"/>
<rect x="975" y="644" width="1" height="96" fill="#c0c0c0"/>
<rect x="983" y="644" width="1" height="101" fill="#c0c0c0"/>
<rect x="991" y="644" width="1" height="94" fill="#c0c0c0"/>
<rect x="999" y="644" width="1" height="93" fill="#c0c0c0"/>
<rect x="1007" y="644" width="1" height="85" fill="#c0c0c0"/>
<rect x="1015" y="644" width="1" height="64" fill="#c0c0c0"/>
<rect x="1023" y="644" width="1" height="52" fill="#c0c0c0"/>
<rect x="1031" y="644" width="1" height="41" fill="#c0c0c0"/>
<rect x="1039" y="644" width="1" height="27" fill="#c0c0c0"/>
<rect x="1047" y="644" width="1" height="13" fill="#c0c0c0"/>
<rect x="1055" y="643" width="1" height="2" fill="#c0c0c0"/>
<rect x="1063" y="639" width="1" height="6" fill="#c0c0c0"/>
<rect x="1071" y="636" width="1" height="9" fill="#c0c0c0"/>
<rect x="1079" y="633" width="1" height="12" fill="#c0c0c0"/>
<rect x="1087" y="632" width="1" height="13" fill="#c0c0c0"/>
<rect x="1095" y="629" width="1" height="16" fill="#c0c0c0"/>
<rect x="1103" y="622" width="1" height="23" fill="#c0c0c0"/>
<rect x="1111" y="611" width="1" height="34" fill="#c0c0c0"/>
<rect x="1119" y="601" width="1" height="44" fill="#c0c0c0"/>
<rect x="1127" y="597" width="1" height="48" fill="#c0c0c0"/>
<rect x="1135" y="595" width="1" height="50" fill="#c0c0c0"/>
<rect x="1143" y="592" width="1" height="53" fill="#c0c0c0"/>
<rect x="1151" y="598" width="1" height="47" fill="#c0c0c0"/>
<rect x="1159" y="603" width="1" height="42" fill="#c0c0c0"/>
<rect x="1167" y="609" width="1" height="36" fill="#c0c0c0"/>
<rect x="1175" y="616" width="1" height="29" fill="#c0c0c0"/>
<rect x="1183" y="622" width="1" height="23" fill="#c0c0c0"/>
<rect x="1191" y="631" width="1" height="14" fill="#c0c0c0"/>
<rect x="1199" y="634" width="1" height="11" fill="#c0c0c0"/>
<rect x="1207" y="632" width="1" height="13" fill="#c0c0c0"/>
<rect x="1215" y="632" width="1" height="13" fill="#c0c0c0"/>
<rect x="1223" y="631" width="1" height="14" fill="#c0c0c0"/>
<rect x="1231" y="627" width="1" height="18" fill="#c0c0c0"/>
<rect x="1239" y="622" width="1" height="23" fill="#c0c0c0"/>
<rect x="1247" y="623" width="1" height="22" fill="#c0c0c0"/>
<rect x="1255" y="627" width="1" height="18" fill="#c0c0c0"/>
<rect x="1263" y="630" width="1" height="15" fill="#c0c0c0"/>
<rect x="1271" y="629" width="1" height="16" fill="#c0c0c0"/>
<rect x="1279" y="630" width="1" height="15" fill="#c0c0c0"/>
<rect x="1287" y="632" width="1" height="13" fill="#c0c0c0"/>
<rect x="1295" y="632" width="1" height="13" fill="#c0c0c0"/>
<rect x="1303" y="631" width="1" height="14" fill="#c0c0c0"/>
<rect x="1311" y="632" width="1" height="13" fill="#c0c0c0"/>
<rect x="1319" y="634" width="1" height="11" fill="#c0c0c0"/>
<rect x="1327" y="631" width="1" height="14" fill="#c0c0c0"/>
<rect x="1335" y="628" width="1" height="17" fill="#c0c0c0"/>
<rect x="1343" y="623" width="1" height="22" fill="#c0c0c0"/>
<rect x="1351" y="617" width="1" height="28" fill="#c0c0c0"/>
<rect x="1359" y="613" width="1" height="32" fill="#c0c0c0"/>
<rect x="1367" y="607" width="1" height="38" fill="#c0c0c0"/>
<rect x="1375" y="600" width="1" height="45" fill="#c0c0c0"/>
<rect x="1383" y="593" width="1" height="52" fill="#c0c0c0"/>
<path d="M184 601.5h3M178 602.5h3M190 602.5h3M1166 602.5h1M1170 602.5h3M1176 602.5h3M172 603.5h3M196 603.5h1M1164 603.5h2M1182 603.5h2M197 604.5h2M1159 604.5h2M1184 604.5h1M167 605.5h2M1158 605.5h1M1188 605.5h1M166 606.5h1M202 606.5h1M1154 606.5h1M1189 606.5h2M162 607.5h1M203 607.5h2M1152 607.5h2M160 608.5h2M1194 608.5h2M208 609.5h1M1148 609.5h1M1196 609.5h1M156 610.5h1M209 610.5h1M1146 610.5h2M154 611.5h2M210 611.5h1M1200 611.5h2M1142 612.5h1M1202 612.5h1M150 613.5h1M1140 613.5h2M148 614.5h2M1206 614.5h3M214 615.5h1M144 616.5h1M215 616.5h1M1135 616.5h2M1212 616.5h1M1382 616.5h1M142 617.5h2M216 617.5h1M1134 617.5h1M1213 617.5h2M1380 617.5h2M138 619.5h1M1130 619.5h1M1218 619.5h1M1376 619.5h1M136 620.5h2M1129 620.5h1M1219 620.5h2M1374 620.5h2M220 621.5h1M1128 621.5h1M132 622.5h1M221 622.5h1M1224 622.5h2M1370 622.5h1M130 623.5h2M222 623.5h1M1124 623.5h1M1226 623.5h1M1368 623.5h2M126 624.5h1M1123 624.5h1M1230 624.5h1M1364 624.5h1M124 625.5h2M1122 625.5h1M1231 625.5h2M1362 625.5h2M120 626.5h1M1236 626.5h3M1242 626.5h1M1356 626.5h3M118 627.5h2M226 627.5h1M1243 627.5h2M1248 627.5h3M1351 627.5h2M114 628.5h1M227 628.5h1M1117 628.5h2M1254 628.5h1M1266 628.5h3M1272 628.5h3M1278 628.5h3M1284 628.5h3M1290 628.5h3M1296 628.5h3M1350 628.5h1M112 629.5h2M228 629.5h1M1116 629.5h1M1255 629.5h2M1260 629.5h3M1302 629.5h3M1344 629.5h3M1308 630.5h3M1314 630.5h3M1320 630.5h3M1326 630.5h3M1332 630.5h3M1338 630.5h3M107 631.5h2M4 632.5h2M106 632.5h1M232 632.5h1M1112 632.5h1M6 633.5h1M102 633.5h1M233 633.5h1M1111 633.5h1M96 634.5h1M100 634.5h2M234 634.5h1M1110 634.5h1M10 635.5h2M88 635.5h3M94 635.5h2M12 636.5h1M16 636.5h1M78 636.5h1M82 636.5h3M17 637.5h2M22 637.5h3M70 637.5h3M76 637.5h2M1106 637.5h1M28 638.5h3M34 638.5h3M40 638.5h3M46 638.5h3M52 638.5h3M58 638.5h3M64 638.5h3M238 638.5h1M1105 638.5h1M239 639.5h1M1104 639.5h1M240 640.5h1M1100 642.5h1M1099 643.5h1M243 644.5h1M1098 644.5h1M244 645.5h1M245 646.5h1M1094 647.5h1M465 648.5h3M471 648.5h3M477 648.5h1M1093 648.5h1M478 649.5h2M1092 649.5h1M248 650.5h1M461 650.5h1M483 650.5h2M249 651.5h1M459 651.5h2M485 651.5h1M250 652.5h1M489 652.5h1M454 653.5h2M490 653.5h2M1088 653.5h1M453 654.5h1M1088 654.5h1M495 655.5h1M1087 655.5h1M253 656.5h1M449 656.5h1M496 656.5h2M254 657.5h1M448 657.5h1M254 658.5h1M447 658.5h1M501 658.5h1M502 659.5h2M1083 659.5h1M1082 660.5h1M442 661.5h2M507 661.5h1M1081 661.5h1M257 662.5h1M441 662.5h1M508 662.5h2M258 663.5h1M259 664.5h1M513 664.5h1M437 665.5h1M514 665.5h2M1078 665.5h1M436 666.5h1M598 666.5h2M603 666.5h3M609 666.5h3M615 666.5h1M1077 666.5h1M435 667.5h1M519 667.5h1M591 667.5h3M597 667.5h1M616 667.5h2M1076 667.5h1M262 668.5h1M520 668.5h2M585 668.5h3M263 669.5h1M621 669.5h2M264 670.5h1M431 670.5h1M525 670.5h1M580 670.5h2M623 670.5h1M430 671.5h1M526 671.5h2M579 671.5h1M627 671.5h1M1073 671.5h1M429 672.5h1M575 672.5h1M628 672.5h2M1072 672.5h1M531 673.5h1M573 673.5h2M1071 673.5h1M268 674.5h2M532 674.5h2M568 674.5h2M270 675.5h1M563 675.5h1M567 675.5h1M633 675.5h2M425 676.5h1M537 676.5h3M543 676.5h2M555 676.5h3M561 676.5h2M635 676.5h1M424 677.5h1M545 677.5h1M549 677.5h3M1068 677.5h1M423 678.5h1M1067 678.5h1M274 679.5h1M639 679.5h1M1066 679.5h1M275 680.5h1M640 680.5h1M276 681.5h1M641 681.5h1M420 682.5h1M419 683.5h1M1063 683.5h1M280 684.5h1M418 684.5h1M645 684.5h1M1063 684.5h1M281 685.5h2M646 685.5h1M1062 685.5h1M647 686.5h1M414 687.5h1M286 688.5h1M413 688.5h1M287 689.5h1M412 689.5h1M651 689.5h1M1059 689.5h1M288 690.5h1M652 690.5h1M1058 690.5h1M653 691.5h1M1058 691.5h1M292 693.5h1M408 693.5h1M293 694.5h2M407 694.5h1M657 694.5h1M406 695.5h1M658 695.5h1M1055 695.5h1M298 696.5h1M659 696.5h1M1055 696.5h1M299 697.5h2M1054 697.5h1M402 698.5h1M401 699.5h1M663 699.5h1M304 700.5h2M400 700.5h1M664 700.5h1M306 701.5h1M665 701.5h1M1052 701.5h1M1051 702.5h1M310 703.5h2M396 703.5h1M1051 703.5h1M312 704.5h1M395 704.5h1M669 704.5h1M394 705.5h1M670 705.5h1M316 706.5h2M671 706.5h1M318 707.5h1M1048 707.5h1M390 708.5h1M911 708.5h1M915 708.5h3M921 708.5h3M1047 708.5h1M322 709.5h2M389 709.5h1M675 709.5h1M909 709.5h2M927 709.5h3M933 709.5h1M1046 709.5h1M324 710.5h1M388 710.5h1M676 710.5h1M934 710.5h2M328 711.5h1M677 711.5h1M904 711.5h2M939 711.5h3M329 712.5h2M382 712.5h3M903 712.5h1M334 713.5h1M681 713.5h2M899 713.5h1M945 713.5h3M1043 713.5h1M335 714.5h2M377 714.5h2M683 714.5h1M897 714.5h2M1042 714.5h1M340 715.5h3M372 715.5h1M376 715.5h1M951 715.5h2M1041 715.5h1M346 716.5h3M352 716.5h3M364 716.5h3M370 716.5h2M687 716.5h2M892 716.5h2M953 716.5h1M358 717.5h3M689 717.5h1M891 717.5h1M693 718.5h3M699 718.5h3M705 718.5h3M711 718.5h3M717 718.5h1M957 718.5h1M1037 718.5h1M718 719.5h2M753 719.5h3M886 719.5h2M958 719.5h2M1036 719.5h1M723 720.5h1M743 720.5h1M747 720.5h3M759 720.5h3M885 720.5h1M1035 720.5h1M724 721.5h2M735 721.5h3M741 721.5h2M765 721.5h3M881 721.5h1M729 722.5h3M771 722.5h2M879 722.5h2M963 722.5h2M773 723.5h1M777 723.5h1M965 723.5h1M1031 723.5h1M778 724.5h2M874 724.5h2M1030 724.5h1M783 725.5h3M873 725.5h1M969 725.5h1M1029 725.5h1M789 726.5h3M795 726.5h2M868 726.5h2M970 726.5h2M797 727.5h1M801 727.5h3M867 727.5h1M1025 727.5h1M807 728.5h3M861 728.5h3M1024 728.5h1M813 729.5h3M819 729.5h3M855 729.5h3M975 729.5h2M1023 729.5h1M825 730.5h3M831 730.5h3M837 730.5h3M843 730.5h3M849 730.5h3M977 730.5h1M981 732.5h1M1018 732.5h2M982 733.5h2M1017 733.5h1M987 735.5h3M1011 735.5h3M993 737.5h3M999 737.5h3M1005 737.5h3" fill="none" stroke="#ff0000" stroke-width="1" shape-rendering="crispEdges"/>
</g>
<line x1="1322.0" y1="628.0" x2="1390.7" y2="598.2" stroke="#ff0000" stroke-width="3.0" stroke-linecap="round"/>
<polygon points="1398.0,595.0 1390.6,603.1 1387.0,594.9" fill="#ff0000"/>
<g shape-rendering="crispEdges">
<line x1="2" y1="790.5" x2="1650" y2="790.5" stroke="#c0c0c0" stroke-width="1" stroke-dasharray="3 3"/>
<line x1="2" y1="841.5" x2="1650" y2="841.5" stroke="#c0c0c0" stroke-width="1" stroke-dasharray="3 3"/>
<line x1="2" y1="902.5" x2="1650" y2="902.5" stroke="#c0c0c0" stroke-width="1" stroke-dasharray="3 3"/>
</g>
<g clip-path="url(#c3)">
<path d="M1383 804.5h1M1381 805.5h2M119 806.5h1M1379 806.5h2M117 807.5h2M120 807.5h1M1377 807.5h2M115 808.5h2M120 808.5h1M1374 808.5h3M113 809.5h2M121 809.5h1M1372 809.5h2M108 810.5h5M121 810.5h1M1369 810.5h3M103 811.5h5M122 811.5h1M1366 811.5h3M102 812.5h1M122 812.5h1M1364 812.5h2M102 813.5h1M123 813.5h1M1361 813.5h3M101 814.5h1M123 814.5h1M1356 814.5h5M100 815.5h1M124 815.5h1M151 815.5h1M1351 815.5h5M100 816.5h1M124 816.5h1M149 816.5h2M152 816.5h2M1350 816.5h1M99 817.5h1M125 817.5h1M135 817.5h2M148 817.5h1M154 817.5h2M1349 817.5h1M98 818.5h1M125 818.5h1M133 818.5h2M137 818.5h3M146 818.5h2M156 818.5h1M166 818.5h10M1348 818.5h1M98 819.5h1M126 819.5h1M131 819.5h2M140 819.5h2M144 819.5h2M157 819.5h2M162 819.5h4M175 819.5h1M1346 819.5h2M97 820.5h1M126 820.5h1M129 820.5h2M142 820.5h2M159 820.5h3M176 820.5h1M1116 820.5h4M1345 820.5h1M96 821.5h1M127 821.5h2M176 821.5h1M1111 821.5h5M1120 821.5h2M1344 821.5h1M96 822.5h1M176 822.5h1M1110 822.5h1M1122 822.5h2M1343 822.5h1M95 823.5h1M177 823.5h1M1109 823.5h1M1124 823.5h1M1341 823.5h2M95 824.5h1M177 824.5h1M1108 824.5h1M1125 824.5h2M1142 824.5h2M1339 824.5h2M39 825.5h1M94 825.5h1M177 825.5h1M1107 825.5h1M1127 825.5h5M1138 825.5h4M1144 825.5h1M1337 825.5h2M37 826.5h2M40 826.5h2M63 826.5h1M94 826.5h1M178 826.5h1M1107 826.5h1M1132 826.5h6M1144 826.5h1M1335 826.5h2M35 827.5h2M42 827.5h1M61 827.5h3M93 827.5h1M178 827.5h1M1106 827.5h1M1145 827.5h1M1333 827.5h2M33 828.5h2M43 828.5h1M59 828.5h2M64 828.5h1M93 828.5h1M178 828.5h1M391 828.5h2M407 828.5h1M1105 828.5h1M1145 828.5h1M1238 828.5h2M1331 828.5h2M31 829.5h2M44 829.5h2M57 829.5h2M64 829.5h1M93 829.5h1M179 829.5h1M390 829.5h1M393 829.5h2M405 829.5h2M408 829.5h1M1104 829.5h1M1146 829.5h1M1234 829.5h4M1240 829.5h1M1329 829.5h2M30 830.5h1M46 830.5h1M52 830.5h5M65 830.5h1M92 830.5h1M179 830.5h1M390 830.5h1M395 830.5h2M403 830.5h2M409 830.5h1M1052 830.5h4M1103 830.5h1M1146 830.5h1M1231 830.5h3M1241 830.5h1M1327 830.5h2M30 831.5h1M47 831.5h5M65 831.5h1M92 831.5h1M179 831.5h1M389 831.5h1M397 831.5h2M401 831.5h2M410 831.5h1M1047 831.5h5M1056 831.5h1M1102 831.5h1M1147 831.5h1M1230 831.5h1M1242 831.5h1M1326 831.5h1M29 832.5h1M66 832.5h1M91 832.5h1M180 832.5h1M389 832.5h1M399 832.5h2M411 832.5h1M1045 832.5h2M1057 832.5h1M1100 832.5h2M1148 832.5h1M1228 832.5h2M1243 832.5h1M1325 832.5h1M29 833.5h1M66 833.5h1M91 833.5h1M180 833.5h1M388 833.5h1M411 833.5h1M1043 833.5h2M1058 833.5h1M1099 833.5h1M1148 833.5h1M1227 833.5h1M1243 833.5h1M1325 833.5h1M28 834.5h1M67 834.5h1M91 834.5h1M180 834.5h1M388 834.5h1M412 834.5h1M1015 834.5h1M1041 834.5h2M1059 834.5h1M1098 834.5h1M1149 834.5h1M1226 834.5h1M1244 834.5h1M1324 834.5h1M27 835.5h1M67 835.5h1M90 835.5h1M181 835.5h1M387 835.5h1M413 835.5h1M1014 835.5h1M1016 835.5h2M1039 835.5h2M1060 835.5h1M1096 835.5h2M1149 835.5h1M1224 835.5h2M1245 835.5h1M1271 835.5h2M1323 835.5h1M27 836.5h1M68 836.5h1M90 836.5h1M181 836.5h1M387 836.5h1M414 836.5h1M420 836.5h6M582 836.5h2M1014 836.5h1M1018 836.5h1M1037 836.5h2M1061 836.5h1M1094 836.5h2M1150 836.5h1M1207 836.5h17M1246 836.5h1M1270 836.5h1M1273 836.5h3M1294 836.5h12M1322 836.5h1M26 837.5h1M68 837.5h1M89 837.5h1M181 837.5h1M386 837.5h1M415 837.5h5M426 837.5h4M578 837.5h4M583 837.5h1M1013 837.5h1M1019 837.5h1M1035 837.5h2M1062 837.5h1M1090 837.5h4M1150 837.5h1M1206 837.5h1M1247 837.5h1M1269 837.5h1M1276 837.5h2M1292 837.5h2M1306 837.5h4M1321 837.5h1M25 838.5h1M69 838.5h1M79 838.5h1M89 838.5h1M182 838.5h1M386 838.5h1M430 838.5h2M454 838.5h2M575 838.5h3M584 838.5h1M1013 838.5h1M1020 838.5h2M1033 838.5h2M1063 838.5h27M1151 838.5h11M1205 838.5h1M1248 838.5h2M1268 838.5h1M1278 838.5h6M1289 838.5h3M1310 838.5h4M1321 838.5h1M25 839.5h1M69 839.5h1M77 839.5h2M80 839.5h2M89 839.5h1M182 839.5h1M385 839.5h1M432 839.5h1M450 839.5h4M456 839.5h1M573 839.5h2M584 839.5h1M1012 839.5h1M1022 839.5h1M1028 839.5h5M1162 839.5h4M1204 839.5h1M1250 839.5h1M1267 839.5h1M1284 839.5h5M1314 839.5h4M1320 839.5h1M24 840.5h1M70 840.5h1M76 840.5h1M82 840.5h2M88 840.5h1M182 840.5h1M385 840.5h1M433 840.5h1M447 840.5h3M456 840.5h1M571 840.5h2M584 840.5h1M1012 840.5h1M1023 840.5h5M1166 840.5h3M1202 840.5h2M1251 840.5h1M1267 840.5h1M1318 840.5h2M24 841.5h1M70 841.5h1M74 841.5h2M84 841.5h1M88 841.5h1M183 841.5h1M384 841.5h1M434 841.5h1M446 841.5h1M457 841.5h1M569 841.5h2M584 841.5h1M1011 841.5h1M1169 841.5h2M1201 841.5h1M1252 841.5h2M1266 841.5h1M23 842.5h1M71 842.5h3M85 842.5h3M183 842.5h1M384 842.5h1M435 842.5h1M444 842.5h2M458 842.5h1M556 842.5h13M585 842.5h1M1010 842.5h1M1171 842.5h2M1200 842.5h1M1254 842.5h1M1265 842.5h1M22 843.5h1M71 843.5h1M87 843.5h1M184 843.5h2M383 843.5h1M436 843.5h1M443 843.5h1M458 843.5h1M548 843.5h8M585 843.5h1M879 843.5h10M1010 843.5h1M1173 843.5h2M1199 843.5h1M1255 843.5h5M1264 843.5h1M20 844.5h2M186 844.5h2M382 844.5h2M437 844.5h1M442 844.5h1M459 844.5h1M542 844.5h6M585 844.5h1M878 844.5h1M889 844.5h3M1009 844.5h1M1175 844.5h9M1198 844.5h1M1260 844.5h4M19 845.5h1M188 845.5h1M378 845.5h4M438 845.5h1M440 845.5h2M460 845.5h1M538 845.5h4M586 845.5h1M878 845.5h1M892 845.5h2M1009 845.5h1M1184 845.5h1M1197 845.5h1M18 846.5h1M189 846.5h2M367 846.5h11M439 846.5h1M460 846.5h1M534 846.5h4M586 846.5h1M815 846.5h1M877 846.5h1M894 846.5h2M1008 846.5h1M1185 846.5h1M1196 846.5h1M-1 847.5h2M16 847.5h2M191 847.5h1M367 847.5h1M461 847.5h1M530 847.5h4M586 847.5h1M814 847.5h1M816 847.5h1M876 847.5h1M896 847.5h1M1008 847.5h1M1186 847.5h2M1195 847.5h1M1 848.5h2M14 848.5h2M191 848.5h1M366 848.5h1M462 848.5h1M527 848.5h3M586 848.5h1M702 848.5h2M814 848.5h1M816 848.5h1M875 848.5h1M896 848.5h1M911 848.5h1M1007 848.5h1M1188 848.5h1M1194 848.5h1M3 849.5h2M12 849.5h2M192 849.5h1M366 849.5h1M462 849.5h1M525 849.5h2M587 849.5h1M700 849.5h2M704 849.5h1M813 849.5h1M817 849.5h1M875 849.5h1M897 849.5h1M910 849.5h2M1006 849.5h1M1189 849.5h1M1193 849.5h1M5 850.5h2M9 850.5h3M192 850.5h1M365 850.5h1M463 850.5h1M523 850.5h2M587 850.5h1M697 850.5h3M704 850.5h1M735 850.5h1M812 850.5h1M817 850.5h1M847 850.5h10M874 850.5h1M898 850.5h1M909 850.5h1M912 850.5h1M1004 850.5h2M1190 850.5h1M1192 850.5h1M7 851.5h2M192 851.5h1M365 851.5h1M464 851.5h1M521 851.5h2M587 851.5h1M695 851.5h2M705 851.5h1M735 851.5h3M812 851.5h1M818 851.5h1M846 851.5h1M857 851.5h3M873 851.5h1M898 851.5h1M909 851.5h1M912 851.5h1M1003 851.5h1M1191 851.5h1M192 852.5h1M365 852.5h1M465 852.5h1M519 852.5h2M588 852.5h1M694 852.5h1M705 852.5h1M734 852.5h1M738 852.5h1M811 852.5h1M819 852.5h1M846 852.5h1M860 852.5h2M872 852.5h1M899 852.5h1M908 852.5h1M912 852.5h1M935 852.5h1M967 852.5h1M991 852.5h3M1002 852.5h1M193 853.5h1M364 853.5h1M466 853.5h1M495 853.5h2M517 853.5h2M588 853.5h1M692 853.5h2M706 853.5h1M734 853.5h1M739 853.5h1M810 853.5h1M819 853.5h1M845 853.5h1M862 853.5h6M872 853.5h1M900 853.5h1M907 853.5h1M913 853.5h1M934 853.5h1M936 853.5h1M966 853.5h1M968 853.5h2M990 853.5h1M994 853.5h4M1000 853.5h2M193 854.5h1M364 854.5h1M467 854.5h1M495 854.5h1M497 854.5h2M515 854.5h2M588 854.5h1M691 854.5h1M707 854.5h1M733 854.5h1M740 854.5h2M775 854.5h1M810 854.5h1M820 854.5h1M845 854.5h1M868 854.5h4M900 854.5h1M906 854.5h1M913 854.5h1M933 854.5h1M937 854.5h1M964 854.5h2M970 854.5h1M989 854.5h1M998 854.5h2M193 855.5h1M364 855.5h1M468 855.5h1M494 855.5h1M499 855.5h2M513 855.5h2M588 855.5h1M690 855.5h1M707 855.5h1M733 855.5h1M742 855.5h1M774 855.5h1M776 855.5h1M809 855.5h1M821 855.5h1M844 855.5h1M901 855.5h1M905 855.5h1M913 855.5h1M932 855.5h1M938 855.5h1M963 855.5h1M971 855.5h1M989 855.5h1M194 856.5h1M363 856.5h1M469 856.5h1M494 856.5h1M501 856.5h2M508 856.5h5M589 856.5h1M688 856.5h2M708 856.5h1M733 856.5h1M743 856.5h3M774 856.5h1M777 856.5h1M808 856.5h1M821 856.5h1M843 856.5h1M902 856.5h1M905 856.5h1M914 856.5h1M931 856.5h1M939 856.5h1M951 856.5h3M962 856.5h1M972 856.5h2M988 856.5h1M194 857.5h1M363 857.5h1M470 857.5h1M493 857.5h1M503 857.5h5M589 857.5h1M679 857.5h9M709 857.5h1M732 857.5h1M746 857.5h4M773 857.5h1M778 857.5h2M808 857.5h1M822 857.5h1M843 857.5h1M902 857.5h1M904 857.5h1M914 857.5h1M931 857.5h1M940 857.5h1M949 857.5h2M954 857.5h4M960 857.5h2M974 857.5h1M987 857.5h1M194 858.5h1M223 858.5h5M335 858.5h1M362 858.5h1M471 858.5h5M493 858.5h1M589 858.5h1M679 858.5h1M709 858.5h1M732 858.5h1M750 858.5h2M772 858.5h1M780 858.5h1M807 858.5h1M822 858.5h1M828 858.5h4M842 858.5h1M903 858.5h1M914 858.5h1M930 858.5h1M941 858.5h1M947 858.5h2M958 858.5h2M975 858.5h2M986 858.5h1M195 859.5h1M222 859.5h1M228 859.5h6M335 859.5h3M362 859.5h1M476 859.5h4M492 859.5h1M590 859.5h1M678 859.5h1M710 859.5h1M731 859.5h1M752 859.5h2M772 859.5h1M781 859.5h1M806 859.5h1M823 859.5h5M832 859.5h2M841 859.5h1M915 859.5h1M929 859.5h1M942 859.5h1M945 859.5h2M977 859.5h2M985 859.5h1M195 860.5h1M220 860.5h2M234 860.5h4M334 860.5h1M338 860.5h2M350 860.5h2M362 860.5h1M480 860.5h1M492 860.5h1M590 860.5h1M678 860.5h1M710 860.5h1M731 860.5h1M754 860.5h2M771 860.5h1M782 860.5h1M806 860.5h1M834 860.5h2M841 860.5h1M915 860.5h1M928 860.5h1M943 860.5h2M979 860.5h2M985 860.5h1M195 861.5h1M219 861.5h1M238 861.5h2M334 861.5h1M340 861.5h1M348 861.5h2M352 861.5h1M361 861.5h1M480 861.5h1M492 861.5h1M590 861.5h1M678 861.5h1M711 861.5h1M731 861.5h1M756 861.5h1M770 861.5h1M783 861.5h2M805 861.5h1M836 861.5h1M840 861.5h1M915 861.5h1M927 861.5h1M981 861.5h2M984 861.5h1M195 862.5h1M207 862.5h3M218 862.5h1M240 862.5h1M303 862.5h1M333 862.5h1M341 862.5h2M345 862.5h3M353 862.5h1M361 862.5h1M481 862.5h1M491 862.5h1M590 862.5h1M647 862.5h1M677 862.5h1M712 862.5h1M730 862.5h1M757 862.5h2M770 862.5h1M785 862.5h2M804 862.5h1M837 862.5h2M840 862.5h1M916 862.5h1M926 862.5h1M983 862.5h1M196 863.5h1M206 863.5h1M210 863.5h4M216 863.5h2M240 863.5h1M302 863.5h2M333 863.5h1M343 863.5h2M354 863.5h2M361 863.5h1M481 863.5h1M491 863.5h1M591 863.5h1M646 863.5h1M648 863.5h2M677 863.5h1M712 863.5h1M730 863.5h1M759 863.5h2M769 863.5h1M787 863.5h2M803 863.5h1M839 863.5h1M916 863.5h1M926 863.5h1M196 864.5h1M206 864.5h1M214 864.5h2M241 864.5h1M301 864.5h1M304 864.5h1M332 864.5h1M356 864.5h1M360 864.5h1M482 864.5h1M490 864.5h1M591 864.5h3M645 864.5h1M650 864.5h2M677 864.5h1M713 864.5h1M729 864.5h1M761 864.5h3M768 864.5h1M789 864.5h2M803 864.5h1M916 864.5h1M925 864.5h1M196 865.5h1M205 865.5h1M241 865.5h1M300 865.5h1M304 865.5h1M332 865.5h1M357 865.5h1M360 865.5h1M483 865.5h1M490 865.5h1M594 865.5h4M645 865.5h1M652 865.5h1M676 865.5h1M714 865.5h1M729 865.5h1M764 865.5h2M768 865.5h1M791 865.5h2M802 865.5h1M917 865.5h1M924 865.5h1M197 866.5h1M204 866.5h1M242 866.5h1M298 866.5h2M305 866.5h1M331 866.5h1M358 866.5h2M483 866.5h1M490 866.5h1M598 866.5h4M644 866.5h1M653 866.5h2M676 866.5h1M715 866.5h1M729 866.5h1M766 866.5h2M793 866.5h2M801 866.5h1M917 866.5h1M923 866.5h1M197 867.5h1M204 867.5h1M243 867.5h1M297 867.5h1M305 867.5h1M331 867.5h1M359 867.5h1M484 867.5h1M489 867.5h1M602 867.5h4M643 867.5h1M655 867.5h2M676 867.5h1M715 867.5h1M728 867.5h1M795 867.5h2M800 867.5h1M917 867.5h1M923 867.5h1M197 868.5h1M203 868.5h1M243 868.5h1M296 868.5h1M306 868.5h1M331 868.5h1M485 868.5h1M489 868.5h1M606 868.5h10M642 868.5h1M657 868.5h2M675 868.5h1M716 868.5h1M728 868.5h1M797 868.5h2M800 868.5h1M918 868.5h1M922 868.5h1M198 869.5h1M202 869.5h1M244 869.5h1M295 869.5h1M306 869.5h1M330 869.5h1M485 869.5h1M488 869.5h1M616 869.5h1M641 869.5h1M659 869.5h2M675 869.5h1M717 869.5h1M727 869.5h1M799 869.5h1M918 869.5h1M921 869.5h1M198 870.5h1M202 870.5h1M245 870.5h1M293 870.5h2M307 870.5h1M330 870.5h1M486 870.5h1M488 870.5h1M617 870.5h1M641 870.5h1M661 870.5h2M675 870.5h1M718 870.5h1M726 870.5h2M918 870.5h1M920 870.5h1M198 871.5h1M201 871.5h1M245 871.5h1M254 871.5h4M279 871.5h3M291 871.5h2M307 871.5h1M329 871.5h1M486 871.5h2M617 871.5h1M640 871.5h1M663 871.5h1M675 871.5h1M718 871.5h1M722 871.5h4M919 871.5h2M198 872.5h1M200 872.5h1M246 872.5h1M252 872.5h2M258 872.5h4M277 872.5h2M282 872.5h4M289 872.5h2M307 872.5h1M329 872.5h1M487 872.5h1M618 872.5h1M639 872.5h1M664 872.5h1M674 872.5h1M719 872.5h3M919 872.5h1M199 873.5h2M246 873.5h1M249 873.5h3M262 873.5h3M276 873.5h1M286 873.5h3M308 873.5h1M328 873.5h1M619 873.5h1M638 873.5h1M664 873.5h1M674 873.5h1M199 874.5h1M247 874.5h2M265 874.5h3M274 874.5h2M308 874.5h1M328 874.5h1M620 874.5h1M638 874.5h1M665 874.5h1M674 874.5h1M268 875.5h2M272 875.5h2M309 875.5h1M327 875.5h1M621 875.5h1M637 875.5h1M666 875.5h1M673 875.5h1M270 876.5h2M309 876.5h1M326 876.5h2M621 876.5h1M637 876.5h1M667 876.5h1M673 876.5h1M310 877.5h1M322 877.5h4M622 877.5h1M636 877.5h1M667 877.5h1M673 877.5h1M310 878.5h1M318 878.5h4M623 878.5h1M636 878.5h1M668 878.5h1M672 878.5h1M311 879.5h1M314 879.5h4M624 879.5h1M635 879.5h1M669 879.5h1M672 879.5h1M311 880.5h3M625 880.5h1M634 880.5h1M670 880.5h1M672 880.5h1M626 881.5h1M634 881.5h1M670 881.5h2M627 882.5h1M633 882.5h1M671 882.5h1M628 883.5h1M633 883.5h1M629 884.5h1M632 884.5h1M630 885.5h1M632 885.5h1M631 886.5h1" fill="none" stroke="#1e90ff" stroke-width="1" shape-rendering="crispEdges"/>
</g>
<line x1="1301.0" y1="847.0" x2="1380.8" y2="807.5" stroke="#ff0000" stroke-width="3.0" stroke-linecap="round"/>
<polygon points="1388.0,804.0 1381.0,812.5 1377.0,804.4" fill="#ff0000"/>
<g shape-rendering="crispEdges">
<rect x="0" y="27" width="1651" height="1" fill="#000"/>
<rect x="1650" y="27" width="1" height="902" fill="#000"/>
<rect x="0" y="580" width="1651" height="1" fill="#000"/>
<rect x="0" y="582" width="1651" height="1" fill="#000"/>
<rect x="0" y="752" width="1651" height="1" fill="#000"/>
<rect x="0" y="754" width="1651" height="1" fill="#000"/>
<rect x="0" y="928" width="1651" height="1" fill="#000"/>
<rect x="1651" y="49" width="2" height="1" fill="#000"/>
<rect x="1651" y="82" width="2" height="1" fill="#000"/>
<rect x="1651" y="115" width="2" height="1" fill="#000"/>
<rect x="1651" y="148" width="2" height="1" fill="#000"/>
<rect x="1651" y="181" width="2" height="1" fill="#000"/>
<rect x="1651" y="214" width="2" height="1" fill="#000"/>
<rect x="1651" y="247" width="2" height="1" fill="#000"/>
<rect x="1651" y="280" width="2" height="1" fill="#000"/>
<rect x="1651" y="313" width="2" height="1" fill="#000"/>
<rect x="1651" y="346" width="2" height="1" fill="#000"/>
<rect x="1651" y="379" width="2" height="1" fill="#000"/>
<rect x="1651" y="412" width="2" height="1" fill="#000"/>
<rect x="1651" y="445" width="2" height="1" fill="#000"/>
<rect x="1651" y="478" width="2" height="1" fill="#000"/>
<rect x="1651" y="511" width="2" height="1" fill="#000"/>
<rect x="1651" y="544" width="2" height="1" fill="#000"/>
<rect x="1651" y="577" width="2" height="1" fill="#000"/>
<rect x="1651" y="584" width="1" height="1" fill="#000"/>
<rect x="1651" y="644" width="2" height="1" fill="#000"/>
<rect x="1651" y="750" width="1" height="1" fill="#000"/>
<rect x="1651" y="756" width="1" height="1" fill="#000"/>
<rect x="1651" y="927" width="1" height="1" fill="#000"/>
<rect x="55" y="929" width="1" height="3" fill="#000"/>
<rect x="119" y="929" width="1" height="3" fill="#000"/>
<rect x="183" y="929" width="1" height="3" fill="#000"/>
<rect x="247" y="929" width="1" height="3" fill="#000"/>
<rect x="311" y="929" width="1" height="3" fill="#000"/>
<rect x="375" y="929" width="1" height="3" fill="#000"/>
<rect x="439" y="929" width="1" height="3" fill="#000"/>
<rect x="503" y="929" width="1" height="3" fill="#000"/>
<rect x="567" y="929" width="1" height="3" fill="#000"/>
<rect x="631" y="929" width="1" height="3" fill="#000"/>
<rect x="695" y="929" width="1" height="3" fill="#000"/>
<rect x="759" y="929" width="1" height="3" fill="#000"/>
<rect x="823" y="929" width="1" height="3" fill="#000"/>
<rect x="887" y="929" width="1" height="3" fill="#000"/>
<rect x="951" y="929" width="1" height="3" fill="#000"/>
<rect x="1015" y="929" width="1" height="3" fill="#000"/>
<rect x="1079" y="929" width="1" height="3" fill="#000"/>
<rect x="1143" y="929" width="1" height="3" fill="#000"/>
<rect x="1207" y="929" width="1" height="3" fill="#000"/>
<rect x="1271" y="929" width="1" height="3" fill="#000"/>
<rect x="1335" y="929" width="1" height="3" fill="#000"/>
<rect x="1696" y="24" width="1" height="924" fill="#d4d4d4"/>
<rect x="1695" y="25" width="1" height="923" fill="#f4f4f4"/>
<rect x="1645" y="250" width="5" height="5" fill="#ff0000"/>
<rect x="1646" y="251" width="3" height="3" fill="#fff"/>
<rect x="1645" y="272" width="5" height="5" fill="#ff0000"/>
<rect x="1646" y="273" width="3" height="3" fill="#fff"/>
<rect x="1645" y="307" width="5" height="5" fill="#32cd32"/>
<rect x="1646" y="308" width="3" height="3" fill="#fff"/>
<rect x="1645" y="326" width="5" height="5" fill="#0000ff"/>
<rect x="1646" y="327" width="3" height="3" fill="#fff"/>
<rect x="1645" y="346" width="5" height="5" fill="#0000ff"/>
<rect x="1646" y="347" width="3" height="3" fill="#fff"/>
</g>
</svg>
<div class="ax" style="left:1656px;top:43px">29392.5</div>
<div class="ax" style="left:1656px;top:76px">29178.0</div>
<div class="ax" style="left:1656px;top:109px">28963.5</div>
<div class="ax" style="left:1656px;top:142px">28749.0</div>
<div class="ax" style="left:1656px;top:175px">28534.5</div>
<div class="ax" style="left:1656px;top:208px">28313.5</div>
<div class="ax" style="left:1656px;top:241px">28099.0</div>
<div class="ax" style="left:1656px;top:274px">27884.5</div>
<div class="ax" style="left:1656px;top:307px">27670.0</div>
<div class="ax" style="left:1656px;top:340px">27455.5</div>
<div class="ax" style="left:1656px;top:373px">27241.0</div>
<div class="ax" style="left:1656px;top:406px">27020.0</div>
<div class="ax" style="left:1656px;top:439px">26805.5</div>
<div class="ax" style="left:1656px;top:472px">26591.0</div>
<div class="ax" style="left:1656px;top:505px">26376.5</div>
<div class="ax" style="left:1656px;top:538px">26162.0</div>
<div class="ax" style="left:1656px;top:571px">25947.5</div>
<div class="ax" style="left:1655px;top:583px">153.38</div>
<div class="ax" style="left:1655px;top:638px">0.00</div>
<div class="ax" style="left:1655px;top:739px">-270.14</div>
<div class="ax" style="left:1654px;top:755px">100</div>
<div class="ax" style="left:1654px;top:784px">80</div>
<div class="ax" style="left:1654px;top:835px">50</div>
<div class="ax" style="left:1654px;top:896px">15</div>
<div class="ax" style="left:1654px;top:915px">0</div>
<div class="tag" style="top:246px;background:#ff0000">28067.1</div>
<div class="tag" style="top:268px;background:#ff0000">27923.7</div>
<div class="tag" style="top:292px;background:#000">27775.0</div>
<div class="tag" style="top:303px;background:#32cd32">27695.4</div>
<div class="tag" style="top:322px;background:#0000ff">27571.5</div>
<div class="tag" style="top:342px;background:#0000ff">27441.0</div>
<div class="tm" style="left:-11px">30 Dec 2021</div>
<div class="tm" style="left:54px">3 Jan 00:00</div>
<div class="tm" style="left:118px">4 Jan 10:55</div>
<div class="tm" style="left:182px">5 Jan 18:55</div>
<div class="tm" style="left:246px">7 Jan 00:00</div>
<div class="tm" style="left:310px">10 Jan 10:55</div>
<div class="tm" style="left:374px">11 Jan 18:55</div>
<div class="tm" style="left:438px">13 Jan 00:00</div>
<div class="tm" style="left:502px">14 Jan 10:55</div>
<div class="tm" style="left:566px">17 Jan 18:55</div>
<div class="tm" style="left:630px">19 Jan 00:00</div>
<div class="tm" style="left:694px">20 Jan 10:55</div>
<div class="tm" style="left:758px">21 Jan 18:55</div>
<div class="tm" style="left:822px">25 Jan 00:00</div>
<div class="tm" style="left:886px">26 Jan 10:55</div>
<div class="tm" style="left:950px">27 Jan 18:55</div>
<div class="tm" style="left:1014px">31 Jan 00:00</div>
<div class="tm" style="left:1078px">1 Feb 10:55</div>
<div class="tm" style="left:1142px">2 Feb 18:55</div>
<div class="tm" style="left:1206px">4 Feb 00:00</div>
<div class="tm" style="left:1270px">7 Feb 10:55</div>
<div class="tm" style="left:1334px">8 Feb 18:55</div>
<div class="lbl" style="left:-3px;top:586px">MACD(12,26,9) 130.71 74.20</div>
<div class="lbl" style="left:-3px;top:758px">RSI(14) 72.2313</div>
<div id="sym">JPN225-,H4&nbsp; 27710.0 27802.5 27707.5 27775.0</div>
<div id="symdot"></div>
<div id="oc">
 <div id="volbg"></div><div id="gap"></div>
 <div id="sellb"><span>SELL</span><i></i></div>
 <div id="buyb"><span>BUY</span><i></i></div>
 <div id="vol"><div class="vb" style="left:0;border-left:0"><b class="dn"></b></div><div id="volt">1.00</div><div class="vb" style="right:0;border-right:0"><b class="up"></b></div></div>
 <div id="sellp"><span class="sm" style="left:10px">27773</span><span class="bg" style="left:47px">.5</span></div>
 <div id="buyp"><span class="sm" style="left:15px">27796</span><span class="bg" style="left:52px">.5</span></div>
</div>

</body></html>
